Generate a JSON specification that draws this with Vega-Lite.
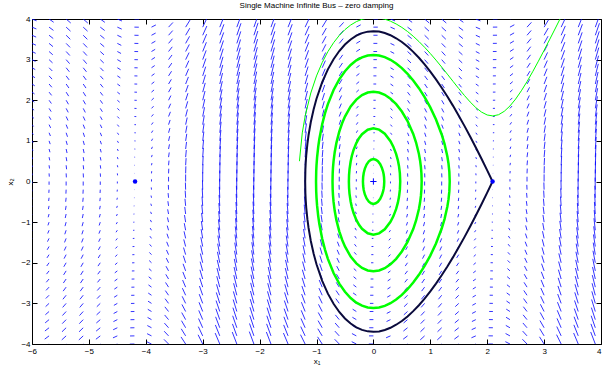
{"$schema":"https://vega.github.io/schema/vega-lite/v6.json","width":569,"height":325,"autosize":{"type":"none"},"padding":{"left":32,"top":19,"right":1,"bottom":22},"background":"white",
"title":{"text":"Single Machine Infinite Bus – zero damping","font":"Liberation Sans","fontSize":8,"fontWeight":"normal","color":"black","offset":5},
"config":{"view":{"stroke":"black","strokeWidth":1},"axis":{"domain":false,"grid":false,"tickColor":"black","tickSize":-5,"tickWidth":1,"labelFont":"Liberation Sans","labelFontSize":8,"labelColor":"black","titleFont":"Liberation Sans","titleFontSize":8,"titleFontWeight":"normal","titleColor":"black","labelFlush":false,"labelOverlap":false}},
"resolve":{"axis":{"x":"independent","y":"independent"}},
"datasets":{
"q":[
{"x":-6,"y":-4,"a":-6.081,"b":-4.045},{"x":-6,"y":-3.8,"a":-6.077,"b":-3.845},{"x":-6,"y":-3.6,"a":-6.073,"b":-3.645},{"x":-6,"y":-3.4,"a":-6.069,"b":-3.445},{"x":-6,"y":-3.2,"a":-6.065,"b":-3.245},{"x":-6,"y":-3,"a":-6.061,"b":-3.045},{"x":-6,"y":-2.8,"a":-6.057,"b":-2.845},{"x":-6,"y":-2.6,"a":-6.053,"b":-2.645},{"x":-6,"y":-2.4,"a":-6.049,"b":-2.445},{"x":-6,"y":-2.2,"a":-6.045,"b":-2.245},{"x":-6,"y":-2,"a":-6.041,"b":-2.045},{"x":-6,"y":-1.8,"a":-6.037,"b":-1.845},{"x":-6,"y":-1.6,"a":-6.033,"b":-1.645},{"x":-6,"y":-1.4,"a":-6.028,"b":-1.445},{"x":-6,"y":-1.2,"a":-6.024,"b":-1.245},{"x":-6,"y":-1,"a":-6.02,"b":-1.045},{"x":-6,"y":-0.8,"a":-6.016,"b":-0.845},{"x":-6,"y":-0.6,"a":-6.012,"b":-0.645},{"x":-6,"y":-0.4,"a":-6.008,"b":-0.445},{"x":-6,"y":-0.2,"a":-6.004,"b":-0.245},{"x":-6,"y":0,"a":-6,"b":-0.045},{"x":-6,"y":0.2,"a":-5.996,"b":0.155},{"x":-6,"y":0.4,"a":-5.992,"b":0.355},{"x":-6,"y":0.6,"a":-5.988,"b":0.555},{"x":-6,"y":0.8,"a":-5.984,"b":0.755},{"x":-6,"y":1,"a":-5.98,"b":0.955},{"x":-6,"y":1.2,"a":-5.976,"b":1.155},{"x":-6,"y":1.4,"a":-5.972,"b":1.355},{"x":-6,"y":1.6,"a":-5.967,"b":1.555},{"x":-6,"y":1.8,"a":-5.963,"b":1.755},{"x":-6,"y":2,"a":-5.959,"b":1.955},{"x":-6,"y":2.2,"a":-5.955,"b":2.155},{"x":-6,"y":2.4,"a":-5.951,"b":2.355},{"x":-6,"y":2.6,"a":-5.947,"b":2.555},{"x":-6,"y":2.8,"a":-5.943,"b":2.755},{"x":-6,"y":3,"a":-5.939,"b":2.955},{"x":-6,"y":3.2,"a":-5.935,"b":3.155},{"x":-6,"y":3.4,"a":-5.931,"b":3.355},{"x":-6,"y":3.6,"a":-5.927,"b":3.555},{"x":-6,"y":3.8,"a":-5.923,"b":3.755},{"x":-6,"y":4,"a":-5.919,"b":3.955},
{"x":-5.7,"y":-4,"a":-5.781,"b":-4.08},{"x":-5.7,"y":-3.8,"a":-5.777,"b":-3.88},{"x":-5.7,"y":-3.6,"a":-5.773,"b":-3.68},{"x":-5.7,"y":-3.4,"a":-5.769,"b":-3.48},{"x":-5.7,"y":-3.2,"a":-5.765,"b":-3.28},{"x":-5.7,"y":-3,"a":-5.761,"b":-3.08},{"x":-5.7,"y":-2.8,"a":-5.757,"b":-2.88},{"x":-5.7,"y":-2.6,"a":-5.753,"b":-2.68},{"x":-5.7,"y":-2.4,"a":-5.749,"b":-2.48},{"x":-5.7,"y":-2.2,"a":-5.745,"b":-2.28},{"x":-5.7,"y":-2,"a":-5.741,"b":-2.08},{"x":-5.7,"y":-1.8,"a":-5.737,"b":-1.88},{"x":-5.7,"y":-1.6,"a":-5.733,"b":-1.68},{"x":-5.7,"y":-1.4,"a":-5.728,"b":-1.48},{"x":-5.7,"y":-1.2,"a":-5.724,"b":-1.28},{"x":-5.7,"y":-1,"a":-5.72,"b":-1.08},{"x":-5.7,"y":-0.8,"a":-5.716,"b":-0.88},{"x":-5.7,"y":-0.6,"a":-5.712,"b":-0.68},{"x":-5.7,"y":-0.4,"a":-5.708,"b":-0.48},{"x":-5.7,"y":-0.2,"a":-5.704,"b":-0.28},{"x":-5.7,"y":0,"a":-5.7,"b":-0.08},{"x":-5.7,"y":0.2,"a":-5.696,"b":0.12},{"x":-5.7,"y":0.4,"a":-5.692,"b":0.32},{"x":-5.7,"y":0.6,"a":-5.688,"b":0.52},{"x":-5.7,"y":0.8,"a":-5.684,"b":0.72},{"x":-5.7,"y":1,"a":-5.68,"b":0.92},{"x":-5.7,"y":1.2,"a":-5.676,"b":1.12},{"x":-5.7,"y":1.4,"a":-5.672,"b":1.32},{"x":-5.7,"y":1.6,"a":-5.667,"b":1.52},{"x":-5.7,"y":1.8,"a":-5.663,"b":1.72},{"x":-5.7,"y":2,"a":-5.659,"b":1.92},{"x":-5.7,"y":2.2,"a":-5.655,"b":2.12},{"x":-5.7,"y":2.4,"a":-5.651,"b":2.32},{"x":-5.7,"y":2.6,"a":-5.647,"b":2.52},{"x":-5.7,"y":2.8,"a":-5.643,"b":2.72},{"x":-5.7,"y":3,"a":-5.639,"b":2.92},{"x":-5.7,"y":3.2,"a":-5.635,"b":3.12},{"x":-5.7,"y":3.4,"a":-5.631,"b":3.32},{"x":-5.7,"y":3.6,"a":-5.627,"b":3.52},{"x":-5.7,"y":3.8,"a":-5.623,"b":3.72},{"x":-5.7,"y":4,"a":-5.619,"b":3.92},
{"x":-5.4,"y":-4,"a":-5.481,"b":-4.099},{"x":-5.4,"y":-3.8,"a":-5.477,"b":-3.899},{"x":-5.4,"y":-3.6,"a":-5.473,"b":-3.699},{"x":-5.4,"y":-3.4,"a":-5.469,"b":-3.499},{"x":-5.4,"y":-3.2,"a":-5.465,"b":-3.299},{"x":-5.4,"y":-3,"a":-5.461,"b":-3.099},{"x":-5.4,"y":-2.8,"a":-5.457,"b":-2.899},{"x":-5.4,"y":-2.6,"a":-5.453,"b":-2.699},{"x":-5.4,"y":-2.4,"a":-5.449,"b":-2.499},{"x":-5.4,"y":-2.2,"a":-5.445,"b":-2.299},{"x":-5.4,"y":-2,"a":-5.441,"b":-2.099},{"x":-5.4,"y":-1.8,"a":-5.437,"b":-1.899},{"x":-5.4,"y":-1.6,"a":-5.433,"b":-1.699},{"x":-5.4,"y":-1.4,"a":-5.428,"b":-1.499},{"x":-5.4,"y":-1.2,"a":-5.424,"b":-1.299},{"x":-5.4,"y":-1,"a":-5.42,"b":-1.099},{"x":-5.4,"y":-0.8,"a":-5.416,"b":-0.899},{"x":-5.4,"y":-0.6,"a":-5.412,"b":-0.699},{"x":-5.4,"y":-0.4,"a":-5.408,"b":-0.499},{"x":-5.4,"y":-0.2,"a":-5.404,"b":-0.299},{"x":-5.4,"y":0,"a":-5.4,"b":-0.099},{"x":-5.4,"y":0.2,"a":-5.396,"b":0.101},{"x":-5.4,"y":0.4,"a":-5.392,"b":0.301},{"x":-5.4,"y":0.6,"a":-5.388,"b":0.501},{"x":-5.4,"y":0.8,"a":-5.384,"b":0.701},{"x":-5.4,"y":1,"a":-5.38,"b":0.901},{"x":-5.4,"y":1.2,"a":-5.376,"b":1.101},{"x":-5.4,"y":1.4,"a":-5.372,"b":1.301},{"x":-5.4,"y":1.6,"a":-5.367,"b":1.501},{"x":-5.4,"y":1.8,"a":-5.363,"b":1.701},{"x":-5.4,"y":2,"a":-5.359,"b":1.901},{"x":-5.4,"y":2.2,"a":-5.355,"b":2.101},{"x":-5.4,"y":2.4,"a":-5.351,"b":2.301},{"x":-5.4,"y":2.6,"a":-5.347,"b":2.501},{"x":-5.4,"y":2.8,"a":-5.343,"b":2.701},{"x":-5.4,"y":3,"a":-5.339,"b":2.901},{"x":-5.4,"y":3.2,"a":-5.335,"b":3.101},{"x":-5.4,"y":3.4,"a":-5.331,"b":3.301},{"x":-5.4,"y":3.6,"a":-5.327,"b":3.501},{"x":-5.4,"y":3.8,"a":-5.323,"b":3.701},{"x":-5.4,"y":4,"a":-5.319,"b":3.901},
{"x":-5.1,"y":-4,"a":-5.181,"b":-4.1},{"x":-5.1,"y":-3.8,"a":-5.177,"b":-3.9},{"x":-5.1,"y":-3.6,"a":-5.173,"b":-3.7},{"x":-5.1,"y":-3.4,"a":-5.169,"b":-3.5},{"x":-5.1,"y":-3.2,"a":-5.165,"b":-3.3},{"x":-5.1,"y":-3,"a":-5.161,"b":-3.1},{"x":-5.1,"y":-2.8,"a":-5.157,"b":-2.9},{"x":-5.1,"y":-2.6,"a":-5.153,"b":-2.7},{"x":-5.1,"y":-2.4,"a":-5.149,"b":-2.5},{"x":-5.1,"y":-2.2,"a":-5.145,"b":-2.3},{"x":-5.1,"y":-2,"a":-5.141,"b":-2.1},{"x":-5.1,"y":-1.8,"a":-5.137,"b":-1.9},{"x":-5.1,"y":-1.6,"a":-5.133,"b":-1.7},{"x":-5.1,"y":-1.4,"a":-5.128,"b":-1.5},{"x":-5.1,"y":-1.2,"a":-5.124,"b":-1.3},{"x":-5.1,"y":-1,"a":-5.12,"b":-1.1},{"x":-5.1,"y":-0.8,"a":-5.116,"b":-0.9},{"x":-5.1,"y":-0.6,"a":-5.112,"b":-0.7},{"x":-5.1,"y":-0.4,"a":-5.108,"b":-0.5},{"x":-5.1,"y":-0.2,"a":-5.104,"b":-0.3},{"x":-5.1,"y":0,"a":-5.1,"b":-0.1},{"x":-5.1,"y":0.2,"a":-5.096,"b":0.1},{"x":-5.1,"y":0.4,"a":-5.092,"b":0.3},{"x":-5.1,"y":0.6,"a":-5.088,"b":0.5},{"x":-5.1,"y":0.8,"a":-5.084,"b":0.7},{"x":-5.1,"y":1,"a":-5.08,"b":0.9},{"x":-5.1,"y":1.2,"a":-5.076,"b":1.1},{"x":-5.1,"y":1.4,"a":-5.072,"b":1.3},{"x":-5.1,"y":1.6,"a":-5.067,"b":1.5},{"x":-5.1,"y":1.8,"a":-5.063,"b":1.7},{"x":-5.1,"y":2,"a":-5.059,"b":1.9},{"x":-5.1,"y":2.2,"a":-5.055,"b":2.1},{"x":-5.1,"y":2.4,"a":-5.051,"b":2.3},{"x":-5.1,"y":2.6,"a":-5.047,"b":2.5},{"x":-5.1,"y":2.8,"a":-5.043,"b":2.7},{"x":-5.1,"y":3,"a":-5.039,"b":2.9},{"x":-5.1,"y":3.2,"a":-5.035,"b":3.1},{"x":-5.1,"y":3.4,"a":-5.031,"b":3.3},{"x":-5.1,"y":3.6,"a":-5.027,"b":3.5},{"x":-5.1,"y":3.8,"a":-5.023,"b":3.7},{"x":-5.1,"y":4,"a":-5.019,"b":3.9},
{"x":-4.8,"y":-4,"a":-4.881,"b":-4.083},{"x":-4.8,"y":-3.8,"a":-4.877,"b":-3.883},{"x":-4.8,"y":-3.6,"a":-4.873,"b":-3.683},{"x":-4.8,"y":-3.4,"a":-4.869,"b":-3.483},{"x":-4.8,"y":-3.2,"a":-4.865,"b":-3.283},{"x":-4.8,"y":-3,"a":-4.861,"b":-3.083},{"x":-4.8,"y":-2.8,"a":-4.857,"b":-2.883},{"x":-4.8,"y":-2.6,"a":-4.853,"b":-2.683},{"x":-4.8,"y":-2.4,"a":-4.849,"b":-2.483},{"x":-4.8,"y":-2.2,"a":-4.845,"b":-2.283},{"x":-4.8,"y":-2,"a":-4.841,"b":-2.083},{"x":-4.8,"y":-1.8,"a":-4.837,"b":-1.883},{"x":-4.8,"y":-1.6,"a":-4.833,"b":-1.683},{"x":-4.8,"y":-1.4,"a":-4.828,"b":-1.483},{"x":-4.8,"y":-1.2,"a":-4.824,"b":-1.283},{"x":-4.8,"y":-1,"a":-4.82,"b":-1.083},{"x":-4.8,"y":-0.8,"a":-4.816,"b":-0.883},{"x":-4.8,"y":-0.6,"a":-4.812,"b":-0.683},{"x":-4.8,"y":-0.4,"a":-4.808,"b":-0.483},{"x":-4.8,"y":-0.2,"a":-4.804,"b":-0.283},{"x":-4.8,"y":0,"a":-4.8,"b":-0.083},{"x":-4.8,"y":0.2,"a":-4.796,"b":0.117},{"x":-4.8,"y":0.4,"a":-4.792,"b":0.317},{"x":-4.8,"y":0.6,"a":-4.788,"b":0.517},{"x":-4.8,"y":0.8,"a":-4.784,"b":0.717},{"x":-4.8,"y":1,"a":-4.78,"b":0.917},{"x":-4.8,"y":1.2,"a":-4.776,"b":1.117},{"x":-4.8,"y":1.4,"a":-4.772,"b":1.317},{"x":-4.8,"y":1.6,"a":-4.767,"b":1.517},{"x":-4.8,"y":1.8,"a":-4.763,"b":1.717},{"x":-4.8,"y":2,"a":-4.759,"b":1.917},{"x":-4.8,"y":2.2,"a":-4.755,"b":2.117},{"x":-4.8,"y":2.4,"a":-4.751,"b":2.317},{"x":-4.8,"y":2.6,"a":-4.747,"b":2.517},{"x":-4.8,"y":2.8,"a":-4.743,"b":2.717},{"x":-4.8,"y":3,"a":-4.739,"b":2.917},{"x":-4.8,"y":3.2,"a":-4.735,"b":3.117},{"x":-4.8,"y":3.4,"a":-4.731,"b":3.317},{"x":-4.8,"y":3.6,"a":-4.727,"b":3.517},{"x":-4.8,"y":3.8,"a":-4.723,"b":3.717},{"x":-4.8,"y":4,"a":-4.719,"b":3.917},
{"x":-4.5,"y":-4,"a":-4.581,"b":-4.049},{"x":-4.5,"y":-3.8,"a":-4.577,"b":-3.849},{"x":-4.5,"y":-3.6,"a":-4.573,"b":-3.649},{"x":-4.5,"y":-3.4,"a":-4.569,"b":-3.449},{"x":-4.5,"y":-3.2,"a":-4.565,"b":-3.249},{"x":-4.5,"y":-3,"a":-4.561,"b":-3.049},{"x":-4.5,"y":-2.8,"a":-4.557,"b":-2.849},{"x":-4.5,"y":-2.6,"a":-4.553,"b":-2.649},{"x":-4.5,"y":-2.4,"a":-4.549,"b":-2.449},{"x":-4.5,"y":-2.2,"a":-4.545,"b":-2.249},{"x":-4.5,"y":-2,"a":-4.541,"b":-2.049},{"x":-4.5,"y":-1.8,"a":-4.537,"b":-1.849},{"x":-4.5,"y":-1.6,"a":-4.533,"b":-1.649},{"x":-4.5,"y":-1.4,"a":-4.528,"b":-1.449},{"x":-4.5,"y":-1.2,"a":-4.524,"b":-1.249},{"x":-4.5,"y":-1,"a":-4.52,"b":-1.049},{"x":-4.5,"y":-0.8,"a":-4.516,"b":-0.849},{"x":-4.5,"y":-0.6,"a":-4.512,"b":-0.649},{"x":-4.5,"y":-0.4,"a":-4.508,"b":-0.449},{"x":-4.5,"y":-0.2,"a":-4.504,"b":-0.249},{"x":-4.5,"y":0,"a":-4.5,"b":-0.049},{"x":-4.5,"y":0.2,"a":-4.496,"b":0.151},{"x":-4.5,"y":0.4,"a":-4.492,"b":0.351},{"x":-4.5,"y":0.6,"a":-4.488,"b":0.551},{"x":-4.5,"y":0.8,"a":-4.484,"b":0.751},{"x":-4.5,"y":1,"a":-4.48,"b":0.951},{"x":-4.5,"y":1.2,"a":-4.476,"b":1.151},{"x":-4.5,"y":1.4,"a":-4.472,"b":1.351},{"x":-4.5,"y":1.6,"a":-4.467,"b":1.551},{"x":-4.5,"y":1.8,"a":-4.463,"b":1.751},{"x":-4.5,"y":2,"a":-4.459,"b":1.951},{"x":-4.5,"y":2.2,"a":-4.455,"b":2.151},{"x":-4.5,"y":2.4,"a":-4.451,"b":2.351},{"x":-4.5,"y":2.6,"a":-4.447,"b":2.551},{"x":-4.5,"y":2.8,"a":-4.443,"b":2.751},{"x":-4.5,"y":3,"a":-4.439,"b":2.951},{"x":-4.5,"y":3.2,"a":-4.435,"b":3.151},{"x":-4.5,"y":3.4,"a":-4.431,"b":3.351},{"x":-4.5,"y":3.6,"a":-4.427,"b":3.551},{"x":-4.5,"y":3.8,"a":-4.423,"b":3.751},{"x":-4.5,"y":4,"a":-4.419,"b":3.951},
{"x":-4.2,"y":-4,"a":-4.281,"b":-4.002},{"x":-4.2,"y":-3.8,"a":-4.277,"b":-3.802},{"x":-4.2,"y":-3.6,"a":-4.273,"b":-3.602},{"x":-4.2,"y":-3.4,"a":-4.269,"b":-3.402},{"x":-4.2,"y":-3.2,"a":-4.265,"b":-3.202},{"x":-4.2,"y":-3,"a":-4.261,"b":-3.002},{"x":-4.2,"y":-2.8,"a":-4.257,"b":-2.802},{"x":-4.2,"y":-2.6,"a":-4.253,"b":-2.602},{"x":-4.2,"y":-2.4,"a":-4.249,"b":-2.402},{"x":-4.2,"y":-2.2,"a":-4.245,"b":-2.202},{"x":-4.2,"y":-2,"a":-4.241,"b":-2.002},{"x":-4.2,"y":-1.8,"a":-4.237,"b":-1.802},{"x":-4.2,"y":-1.6,"a":-4.233,"b":-1.602},{"x":-4.2,"y":-1.4,"a":-4.228,"b":-1.402},{"x":-4.2,"y":-1.2,"a":-4.224,"b":-1.202},{"x":-4.2,"y":-1,"a":-4.22,"b":-1.002},{"x":-4.2,"y":-0.8,"a":-4.216,"b":-0.802},{"x":-4.2,"y":-0.6,"a":-4.212,"b":-0.602},{"x":-4.2,"y":-0.4,"a":-4.208,"b":-0.402},{"x":-4.2,"y":-0.2,"a":-4.204,"b":-0.202},{"x":-4.2,"y":0,"a":-4.2,"b":-0.002},{"x":-4.2,"y":0.2,"a":-4.196,"b":0.198},{"x":-4.2,"y":0.4,"a":-4.192,"b":0.398},{"x":-4.2,"y":0.6,"a":-4.188,"b":0.598},{"x":-4.2,"y":0.8,"a":-4.184,"b":0.798},{"x":-4.2,"y":1,"a":-4.18,"b":0.998},{"x":-4.2,"y":1.2,"a":-4.176,"b":1.198},{"x":-4.2,"y":1.4,"a":-4.172,"b":1.398},{"x":-4.2,"y":1.6,"a":-4.167,"b":1.598},{"x":-4.2,"y":1.8,"a":-4.163,"b":1.798},{"x":-4.2,"y":2,"a":-4.159,"b":1.998},{"x":-4.2,"y":2.2,"a":-4.155,"b":2.198},{"x":-4.2,"y":2.4,"a":-4.151,"b":2.398},{"x":-4.2,"y":2.6,"a":-4.147,"b":2.598},{"x":-4.2,"y":2.8,"a":-4.143,"b":2.798},{"x":-4.2,"y":3,"a":-4.139,"b":2.998},{"x":-4.2,"y":3.2,"a":-4.135,"b":3.198},{"x":-4.2,"y":3.4,"a":-4.131,"b":3.398},{"x":-4.2,"y":3.6,"a":-4.127,"b":3.598},{"x":-4.2,"y":3.8,"a":-4.123,"b":3.798},{"x":-4.2,"y":4,"a":-4.119,"b":3.998},
{"x":-3.9,"y":-4,"a":-3.981,"b":-3.946},{"x":-3.9,"y":-3.8,"a":-3.977,"b":-3.746},{"x":-3.9,"y":-3.6,"a":-3.973,"b":-3.546},{"x":-3.9,"y":-3.4,"a":-3.969,"b":-3.346},{"x":-3.9,"y":-3.2,"a":-3.965,"b":-3.146},{"x":-3.9,"y":-3,"a":-3.961,"b":-2.946},{"x":-3.9,"y":-2.8,"a":-3.957,"b":-2.746},{"x":-3.9,"y":-2.6,"a":-3.953,"b":-2.546},{"x":-3.9,"y":-2.4,"a":-3.949,"b":-2.346},{"x":-3.9,"y":-2.2,"a":-3.945,"b":-2.146},{"x":-3.9,"y":-2,"a":-3.941,"b":-1.946},{"x":-3.9,"y":-1.8,"a":-3.937,"b":-1.746},{"x":-3.9,"y":-1.6,"a":-3.933,"b":-1.546},{"x":-3.9,"y":-1.4,"a":-3.928,"b":-1.346},{"x":-3.9,"y":-1.2,"a":-3.924,"b":-1.146},{"x":-3.9,"y":-1,"a":-3.92,"b":-0.946},{"x":-3.9,"y":-0.8,"a":-3.916,"b":-0.746},{"x":-3.9,"y":-0.6,"a":-3.912,"b":-0.546},{"x":-3.9,"y":-0.4,"a":-3.908,"b":-0.346},{"x":-3.9,"y":-0.2,"a":-3.904,"b":-0.146},{"x":-3.9,"y":0,"a":-3.9,"b":0.054},{"x":-3.9,"y":0.2,"a":-3.896,"b":0.254},{"x":-3.9,"y":0.4,"a":-3.892,"b":0.454},{"x":-3.9,"y":0.6,"a":-3.888,"b":0.654},{"x":-3.9,"y":0.8,"a":-3.884,"b":0.854},{"x":-3.9,"y":1,"a":-3.88,"b":1.054},{"x":-3.9,"y":1.2,"a":-3.876,"b":1.254},{"x":-3.9,"y":1.4,"a":-3.872,"b":1.454},{"x":-3.9,"y":1.6,"a":-3.867,"b":1.654},{"x":-3.9,"y":1.8,"a":-3.863,"b":1.854},{"x":-3.9,"y":2,"a":-3.859,"b":2.054},{"x":-3.9,"y":2.2,"a":-3.855,"b":2.254},{"x":-3.9,"y":2.4,"a":-3.851,"b":2.454},{"x":-3.9,"y":2.6,"a":-3.847,"b":2.654},{"x":-3.9,"y":2.8,"a":-3.843,"b":2.854},{"x":-3.9,"y":3,"a":-3.839,"b":3.054},{"x":-3.9,"y":3.2,"a":-3.835,"b":3.254},{"x":-3.9,"y":3.4,"a":-3.831,"b":3.454},{"x":-3.9,"y":3.6,"a":-3.827,"b":3.654},{"x":-3.9,"y":3.8,"a":-3.823,"b":3.854},{"x":-3.9,"y":4,"a":-3.819,"b":4.054},
{"x":-3.6,"y":-4,"a":-3.681,"b":-3.885},{"x":-3.6,"y":-3.8,"a":-3.677,"b":-3.685},{"x":-3.6,"y":-3.6,"a":-3.673,"b":-3.485},{"x":-3.6,"y":-3.4,"a":-3.669,"b":-3.285},{"x":-3.6,"y":-3.2,"a":-3.665,"b":-3.085},{"x":-3.6,"y":-3,"a":-3.661,"b":-2.885},{"x":-3.6,"y":-2.8,"a":-3.657,"b":-2.685},{"x":-3.6,"y":-2.6,"a":-3.653,"b":-2.485},{"x":-3.6,"y":-2.4,"a":-3.649,"b":-2.285},{"x":-3.6,"y":-2.2,"a":-3.645,"b":-2.085},{"x":-3.6,"y":-2,"a":-3.641,"b":-1.885},{"x":-3.6,"y":-1.8,"a":-3.637,"b":-1.685},{"x":-3.6,"y":-1.6,"a":-3.633,"b":-1.485},{"x":-3.6,"y":-1.4,"a":-3.628,"b":-1.285},{"x":-3.6,"y":-1.2,"a":-3.624,"b":-1.085},{"x":-3.6,"y":-1,"a":-3.62,"b":-0.885},{"x":-3.6,"y":-0.8,"a":-3.616,"b":-0.685},{"x":-3.6,"y":-0.6,"a":-3.612,"b":-0.485},{"x":-3.6,"y":-0.4,"a":-3.608,"b":-0.285},{"x":-3.6,"y":-0.2,"a":-3.604,"b":-0.085},{"x":-3.6,"y":0,"a":-3.6,"b":0.115},{"x":-3.6,"y":0.2,"a":-3.596,"b":0.315},{"x":-3.6,"y":0.4,"a":-3.592,"b":0.515},{"x":-3.6,"y":0.6,"a":-3.588,"b":0.715},{"x":-3.6,"y":0.8,"a":-3.584,"b":0.915},{"x":-3.6,"y":1,"a":-3.58,"b":1.115},{"x":-3.6,"y":1.2,"a":-3.576,"b":1.315},{"x":-3.6,"y":1.4,"a":-3.572,"b":1.515},{"x":-3.6,"y":1.6,"a":-3.567,"b":1.715},{"x":-3.6,"y":1.8,"a":-3.563,"b":1.915},{"x":-3.6,"y":2,"a":-3.559,"b":2.115},{"x":-3.6,"y":2.2,"a":-3.555,"b":2.315},{"x":-3.6,"y":2.4,"a":-3.551,"b":2.515},{"x":-3.6,"y":2.6,"a":-3.547,"b":2.715},{"x":-3.6,"y":2.8,"a":-3.543,"b":2.915},{"x":-3.6,"y":3,"a":-3.539,"b":3.115},{"x":-3.6,"y":3.2,"a":-3.535,"b":3.315},{"x":-3.6,"y":3.4,"a":-3.531,"b":3.515},{"x":-3.6,"y":3.6,"a":-3.527,"b":3.715},{"x":-3.6,"y":3.8,"a":-3.523,"b":3.915},{"x":-3.6,"y":4,"a":-3.519,"b":4.115},
{"x":-3.3,"y":-4,"a":-3.381,"b":-3.826},{"x":-3.3,"y":-3.8,"a":-3.377,"b":-3.626},{"x":-3.3,"y":-3.6,"a":-3.373,"b":-3.426},{"x":-3.3,"y":-3.4,"a":-3.369,"b":-3.226},{"x":-3.3,"y":-3.2,"a":-3.365,"b":-3.026},{"x":-3.3,"y":-3,"a":-3.361,"b":-2.826},{"x":-3.3,"y":-2.8,"a":-3.357,"b":-2.626},{"x":-3.3,"y":-2.6,"a":-3.353,"b":-2.426},{"x":-3.3,"y":-2.4,"a":-3.349,"b":-2.226},{"x":-3.3,"y":-2.2,"a":-3.345,"b":-2.026},{"x":-3.3,"y":-2,"a":-3.341,"b":-1.826},{"x":-3.3,"y":-1.8,"a":-3.337,"b":-1.626},{"x":-3.3,"y":-1.6,"a":-3.333,"b":-1.426},{"x":-3.3,"y":-1.4,"a":-3.328,"b":-1.226},{"x":-3.3,"y":-1.2,"a":-3.324,"b":-1.026},{"x":-3.3,"y":-1,"a":-3.32,"b":-0.826},{"x":-3.3,"y":-0.8,"a":-3.316,"b":-0.626},{"x":-3.3,"y":-0.6,"a":-3.312,"b":-0.426},{"x":-3.3,"y":-0.4,"a":-3.308,"b":-0.226},{"x":-3.3,"y":-0.2,"a":-3.304,"b":-0.026},{"x":-3.3,"y":0,"a":-3.3,"b":0.174},{"x":-3.3,"y":0.2,"a":-3.296,"b":0.374},{"x":-3.3,"y":0.4,"a":-3.292,"b":0.574},{"x":-3.3,"y":0.6,"a":-3.288,"b":0.774},{"x":-3.3,"y":0.8,"a":-3.284,"b":0.974},{"x":-3.3,"y":1,"a":-3.28,"b":1.174},{"x":-3.3,"y":1.2,"a":-3.276,"b":1.374},{"x":-3.3,"y":1.4,"a":-3.272,"b":1.574},{"x":-3.3,"y":1.6,"a":-3.267,"b":1.774},{"x":-3.3,"y":1.8,"a":-3.263,"b":1.974},{"x":-3.3,"y":2,"a":-3.259,"b":2.174},{"x":-3.3,"y":2.2,"a":-3.255,"b":2.374},{"x":-3.3,"y":2.4,"a":-3.251,"b":2.574},{"x":-3.3,"y":2.6,"a":-3.247,"b":2.774},{"x":-3.3,"y":2.8,"a":-3.243,"b":2.974},{"x":-3.3,"y":3,"a":-3.239,"b":3.174},{"x":-3.3,"y":3.2,"a":-3.235,"b":3.374},{"x":-3.3,"y":3.4,"a":-3.231,"b":3.574},{"x":-3.3,"y":3.6,"a":-3.227,"b":3.774},{"x":-3.3,"y":3.8,"a":-3.223,"b":3.974},{"x":-3.3,"y":4,"a":-3.219,"b":4.174},
{"x":-3,"y":-4,"a":-3.081,"b":-3.773},{"x":-3,"y":-3.8,"a":-3.077,"b":-3.573},{"x":-3,"y":-3.6,"a":-3.073,"b":-3.373},{"x":-3,"y":-3.4,"a":-3.069,"b":-3.173},{"x":-3,"y":-3.2,"a":-3.065,"b":-2.973},{"x":-3,"y":-3,"a":-3.061,"b":-2.773},{"x":-3,"y":-2.8,"a":-3.057,"b":-2.573},{"x":-3,"y":-2.6,"a":-3.053,"b":-2.373},{"x":-3,"y":-2.4,"a":-3.049,"b":-2.173},{"x":-3,"y":-2.2,"a":-3.045,"b":-1.973},{"x":-3,"y":-2,"a":-3.041,"b":-1.773},{"x":-3,"y":-1.8,"a":-3.037,"b":-1.573},{"x":-3,"y":-1.6,"a":-3.033,"b":-1.373},{"x":-3,"y":-1.4,"a":-3.028,"b":-1.173},{"x":-3,"y":-1.2,"a":-3.024,"b":-0.973},{"x":-3,"y":-1,"a":-3.02,"b":-0.773},{"x":-3,"y":-0.8,"a":-3.016,"b":-0.573},{"x":-3,"y":-0.6,"a":-3.012,"b":-0.373},{"x":-3,"y":-0.4,"a":-3.008,"b":-0.173},{"x":-3,"y":-0.2,"a":-3.004,"b":0.027},{"x":-3,"y":0,"a":-3,"b":0.227},{"x":-3,"y":0.2,"a":-2.996,"b":0.427},{"x":-3,"y":0.4,"a":-2.992,"b":0.627},{"x":-3,"y":0.6,"a":-2.988,"b":0.827},{"x":-3,"y":0.8,"a":-2.984,"b":1.027},{"x":-3,"y":1,"a":-2.98,"b":1.227},{"x":-3,"y":1.2,"a":-2.976,"b":1.427},{"x":-3,"y":1.4,"a":-2.972,"b":1.627},{"x":-3,"y":1.6,"a":-2.967,"b":1.827},{"x":-3,"y":1.8,"a":-2.963,"b":2.027},{"x":-3,"y":2,"a":-2.959,"b":2.227},{"x":-3,"y":2.2,"a":-2.955,"b":2.427},{"x":-3,"y":2.4,"a":-2.951,"b":2.627},{"x":-3,"y":2.6,"a":-2.947,"b":2.827},{"x":-3,"y":2.8,"a":-2.943,"b":3.027},{"x":-3,"y":3,"a":-2.939,"b":3.227},{"x":-3,"y":3.2,"a":-2.935,"b":3.427},{"x":-3,"y":3.4,"a":-2.931,"b":3.627},{"x":-3,"y":3.6,"a":-2.927,"b":3.827},{"x":-3,"y":3.8,"a":-2.923,"b":4.027},{"x":-3,"y":4,"a":-2.919,"b":4.227},
{"x":-2.7,"y":-4,"a":-2.781,"b":-3.731},{"x":-2.7,"y":-3.8,"a":-2.777,"b":-3.531},{"x":-2.7,"y":-3.6,"a":-2.773,"b":-3.331},{"x":-2.7,"y":-3.4,"a":-2.769,"b":-3.131},{"x":-2.7,"y":-3.2,"a":-2.765,"b":-2.931},{"x":-2.7,"y":-3,"a":-2.761,"b":-2.731},{"x":-2.7,"y":-2.8,"a":-2.757,"b":-2.531},{"x":-2.7,"y":-2.6,"a":-2.753,"b":-2.331},{"x":-2.7,"y":-2.4,"a":-2.749,"b":-2.131},{"x":-2.7,"y":-2.2,"a":-2.745,"b":-1.931},{"x":-2.7,"y":-2,"a":-2.741,"b":-1.731},{"x":-2.7,"y":-1.8,"a":-2.737,"b":-1.531},{"x":-2.7,"y":-1.6,"a":-2.733,"b":-1.331},{"x":-2.7,"y":-1.4,"a":-2.728,"b":-1.131},{"x":-2.7,"y":-1.2,"a":-2.724,"b":-0.931},{"x":-2.7,"y":-1,"a":-2.72,"b":-0.731},{"x":-2.7,"y":-0.8,"a":-2.716,"b":-0.531},{"x":-2.7,"y":-0.6,"a":-2.712,"b":-0.331},{"x":-2.7,"y":-0.4,"a":-2.708,"b":-0.131},{"x":-2.7,"y":-0.2,"a":-2.704,"b":0.069},{"x":-2.7,"y":0,"a":-2.7,"b":0.269},{"x":-2.7,"y":0.2,"a":-2.696,"b":0.469},{"x":-2.7,"y":0.4,"a":-2.692,"b":0.669},{"x":-2.7,"y":0.6,"a":-2.688,"b":0.869},{"x":-2.7,"y":0.8,"a":-2.684,"b":1.069},{"x":-2.7,"y":1,"a":-2.68,"b":1.269},{"x":-2.7,"y":1.2,"a":-2.676,"b":1.469},{"x":-2.7,"y":1.4,"a":-2.672,"b":1.669},{"x":-2.7,"y":1.6,"a":-2.667,"b":1.869},{"x":-2.7,"y":1.8,"a":-2.663,"b":2.069},{"x":-2.7,"y":2,"a":-2.659,"b":2.269},{"x":-2.7,"y":2.2,"a":-2.655,"b":2.469},{"x":-2.7,"y":2.4,"a":-2.651,"b":2.669},{"x":-2.7,"y":2.6,"a":-2.647,"b":2.869},{"x":-2.7,"y":2.8,"a":-2.643,"b":3.069},{"x":-2.7,"y":3,"a":-2.639,"b":3.269},{"x":-2.7,"y":3.2,"a":-2.635,"b":3.469},{"x":-2.7,"y":3.4,"a":-2.631,"b":3.669},{"x":-2.7,"y":3.6,"a":-2.627,"b":3.869},{"x":-2.7,"y":3.8,"a":-2.623,"b":4.069},{"x":-2.7,"y":4,"a":-2.619,"b":4.269},
{"x":-2.4,"y":-4,"a":-2.481,"b":-3.705},{"x":-2.4,"y":-3.8,"a":-2.477,"b":-3.505},{"x":-2.4,"y":-3.6,"a":-2.473,"b":-3.305},{"x":-2.4,"y":-3.4,"a":-2.469,"b":-3.105},{"x":-2.4,"y":-3.2,"a":-2.465,"b":-2.905},{"x":-2.4,"y":-3,"a":-2.461,"b":-2.705},{"x":-2.4,"y":-2.8,"a":-2.457,"b":-2.505},{"x":-2.4,"y":-2.6,"a":-2.453,"b":-2.305},{"x":-2.4,"y":-2.4,"a":-2.449,"b":-2.105},{"x":-2.4,"y":-2.2,"a":-2.445,"b":-1.905},{"x":-2.4,"y":-2,"a":-2.441,"b":-1.705},{"x":-2.4,"y":-1.8,"a":-2.437,"b":-1.505},{"x":-2.4,"y":-1.6,"a":-2.433,"b":-1.305},{"x":-2.4,"y":-1.4,"a":-2.428,"b":-1.105},{"x":-2.4,"y":-1.2,"a":-2.424,"b":-0.905},{"x":-2.4,"y":-1,"a":-2.42,"b":-0.705},{"x":-2.4,"y":-0.8,"a":-2.416,"b":-0.505},{"x":-2.4,"y":-0.6,"a":-2.412,"b":-0.305},{"x":-2.4,"y":-0.4,"a":-2.408,"b":-0.105},{"x":-2.4,"y":-0.2,"a":-2.404,"b":0.095},{"x":-2.4,"y":0,"a":-2.4,"b":0.295},{"x":-2.4,"y":0.2,"a":-2.396,"b":0.495},{"x":-2.4,"y":0.4,"a":-2.392,"b":0.695},{"x":-2.4,"y":0.6,"a":-2.388,"b":0.895},{"x":-2.4,"y":0.8,"a":-2.384,"b":1.095},{"x":-2.4,"y":1,"a":-2.38,"b":1.295},{"x":-2.4,"y":1.2,"a":-2.376,"b":1.495},{"x":-2.4,"y":1.4,"a":-2.372,"b":1.695},{"x":-2.4,"y":1.6,"a":-2.367,"b":1.895},{"x":-2.4,"y":1.8,"a":-2.363,"b":2.095},{"x":-2.4,"y":2,"a":-2.359,"b":2.295},{"x":-2.4,"y":2.2,"a":-2.355,"b":2.495},{"x":-2.4,"y":2.4,"a":-2.351,"b":2.695},{"x":-2.4,"y":2.6,"a":-2.347,"b":2.895},{"x":-2.4,"y":2.8,"a":-2.343,"b":3.095},{"x":-2.4,"y":3,"a":-2.339,"b":3.295},{"x":-2.4,"y":3.2,"a":-2.335,"b":3.495},{"x":-2.4,"y":3.4,"a":-2.331,"b":3.695},{"x":-2.4,"y":3.6,"a":-2.327,"b":3.895},{"x":-2.4,"y":3.8,"a":-2.323,"b":4.095},{"x":-2.4,"y":4,"a":-2.319,"b":4.295},
{"x":-2.1,"y":-4,"a":-2.181,"b":-3.695},{"x":-2.1,"y":-3.8,"a":-2.177,"b":-3.495},{"x":-2.1,"y":-3.6,"a":-2.173,"b":-3.295},{"x":-2.1,"y":-3.4,"a":-2.169,"b":-3.095},{"x":-2.1,"y":-3.2,"a":-2.165,"b":-2.895},{"x":-2.1,"y":-3,"a":-2.161,"b":-2.695},{"x":-2.1,"y":-2.8,"a":-2.157,"b":-2.495},{"x":-2.1,"y":-2.6,"a":-2.153,"b":-2.295},{"x":-2.1,"y":-2.4,"a":-2.149,"b":-2.095},{"x":-2.1,"y":-2.2,"a":-2.145,"b":-1.895},{"x":-2.1,"y":-2,"a":-2.141,"b":-1.695},{"x":-2.1,"y":-1.8,"a":-2.137,"b":-1.495},{"x":-2.1,"y":-1.6,"a":-2.133,"b":-1.295},{"x":-2.1,"y":-1.4,"a":-2.128,"b":-1.095},{"x":-2.1,"y":-1.2,"a":-2.124,"b":-0.895},{"x":-2.1,"y":-1,"a":-2.12,"b":-0.695},{"x":-2.1,"y":-0.8,"a":-2.116,"b":-0.495},{"x":-2.1,"y":-0.6,"a":-2.112,"b":-0.295},{"x":-2.1,"y":-0.4,"a":-2.108,"b":-0.095},{"x":-2.1,"y":-0.2,"a":-2.104,"b":0.105},{"x":-2.1,"y":0,"a":-2.1,"b":0.305},{"x":-2.1,"y":0.2,"a":-2.096,"b":0.505},{"x":-2.1,"y":0.4,"a":-2.092,"b":0.705},{"x":-2.1,"y":0.6,"a":-2.088,"b":0.905},{"x":-2.1,"y":0.8,"a":-2.084,"b":1.105},{"x":-2.1,"y":1,"a":-2.08,"b":1.305},{"x":-2.1,"y":1.2,"a":-2.076,"b":1.505},{"x":-2.1,"y":1.4,"a":-2.072,"b":1.705},{"x":-2.1,"y":1.6,"a":-2.067,"b":1.905},{"x":-2.1,"y":1.8,"a":-2.063,"b":2.105},{"x":-2.1,"y":2,"a":-2.059,"b":2.305},{"x":-2.1,"y":2.2,"a":-2.055,"b":2.505},{"x":-2.1,"y":2.4,"a":-2.051,"b":2.705},{"x":-2.1,"y":2.6,"a":-2.047,"b":2.905},{"x":-2.1,"y":2.8,"a":-2.043,"b":3.105},{"x":-2.1,"y":3,"a":-2.039,"b":3.305},{"x":-2.1,"y":3.2,"a":-2.035,"b":3.505},{"x":-2.1,"y":3.4,"a":-2.031,"b":3.705},{"x":-2.1,"y":3.6,"a":-2.027,"b":3.905},{"x":-2.1,"y":3.8,"a":-2.023,"b":4.105},{"x":-2.1,"y":4,"a":-2.019,"b":4.305},
{"x":-1.8,"y":-4,"a":-1.881,"b":-3.704},{"x":-1.8,"y":-3.8,"a":-1.877,"b":-3.504},{"x":-1.8,"y":-3.6,"a":-1.873,"b":-3.304},{"x":-1.8,"y":-3.4,"a":-1.869,"b":-3.104},{"x":-1.8,"y":-3.2,"a":-1.865,"b":-2.904},{"x":-1.8,"y":-3,"a":-1.861,"b":-2.704},{"x":-1.8,"y":-2.8,"a":-1.857,"b":-2.504},{"x":-1.8,"y":-2.6,"a":-1.853,"b":-2.304},{"x":-1.8,"y":-2.4,"a":-1.849,"b":-2.104},{"x":-1.8,"y":-2.2,"a":-1.845,"b":-1.904},{"x":-1.8,"y":-2,"a":-1.841,"b":-1.704},{"x":-1.8,"y":-1.8,"a":-1.837,"b":-1.504},{"x":-1.8,"y":-1.6,"a":-1.833,"b":-1.304},{"x":-1.8,"y":-1.4,"a":-1.828,"b":-1.104},{"x":-1.8,"y":-1.2,"a":-1.824,"b":-0.904},{"x":-1.8,"y":-1,"a":-1.82,"b":-0.704},{"x":-1.8,"y":-0.8,"a":-1.816,"b":-0.504},{"x":-1.8,"y":-0.6,"a":-1.812,"b":-0.304},{"x":-1.8,"y":-0.4,"a":-1.808,"b":-0.104},{"x":-1.8,"y":-0.2,"a":-1.804,"b":0.096},{"x":-1.8,"y":0,"a":-1.8,"b":0.296},{"x":-1.8,"y":0.2,"a":-1.796,"b":0.496},{"x":-1.8,"y":0.4,"a":-1.792,"b":0.696},{"x":-1.8,"y":0.6,"a":-1.788,"b":0.896},{"x":-1.8,"y":0.8,"a":-1.784,"b":1.096},{"x":-1.8,"y":1,"a":-1.78,"b":1.296},{"x":-1.8,"y":1.2,"a":-1.776,"b":1.496},{"x":-1.8,"y":1.4,"a":-1.772,"b":1.696},{"x":-1.8,"y":1.6,"a":-1.767,"b":1.896},{"x":-1.8,"y":1.8,"a":-1.763,"b":2.096},{"x":-1.8,"y":2,"a":-1.759,"b":2.296},{"x":-1.8,"y":2.2,"a":-1.755,"b":2.496},{"x":-1.8,"y":2.4,"a":-1.751,"b":2.696},{"x":-1.8,"y":2.6,"a":-1.747,"b":2.896},{"x":-1.8,"y":2.8,"a":-1.743,"b":3.096},{"x":-1.8,"y":3,"a":-1.739,"b":3.296},{"x":-1.8,"y":3.2,"a":-1.735,"b":3.496},{"x":-1.8,"y":3.4,"a":-1.731,"b":3.696},{"x":-1.8,"y":3.6,"a":-1.727,"b":3.896},{"x":-1.8,"y":3.8,"a":-1.723,"b":4.096},{"x":-1.8,"y":4,"a":-1.719,"b":4.296},
{"x":-1.5,"y":-4,"a":-1.581,"b":-3.73},{"x":-1.5,"y":-3.8,"a":-1.577,"b":-3.53},{"x":-1.5,"y":-3.6,"a":-1.573,"b":-3.33},{"x":-1.5,"y":-3.4,"a":-1.569,"b":-3.13},{"x":-1.5,"y":-3.2,"a":-1.565,"b":-2.93},{"x":-1.5,"y":-3,"a":-1.561,"b":-2.73},{"x":-1.5,"y":-2.8,"a":-1.557,"b":-2.53},{"x":-1.5,"y":-2.6,"a":-1.553,"b":-2.33},{"x":-1.5,"y":-2.4,"a":-1.549,"b":-2.13},{"x":-1.5,"y":-2.2,"a":-1.545,"b":-1.93},{"x":-1.5,"y":-2,"a":-1.541,"b":-1.73},{"x":-1.5,"y":-1.8,"a":-1.537,"b":-1.53},{"x":-1.5,"y":-1.6,"a":-1.533,"b":-1.33},{"x":-1.5,"y":-1.4,"a":-1.528,"b":-1.13},{"x":-1.5,"y":-1.2,"a":-1.524,"b":-0.93},{"x":-1.5,"y":-1,"a":-1.52,"b":-0.73},{"x":-1.5,"y":-0.8,"a":-1.516,"b":-0.53},{"x":-1.5,"y":-0.6,"a":-1.512,"b":-0.33},{"x":-1.5,"y":-0.4,"a":-1.508,"b":-0.13},{"x":-1.5,"y":-0.2,"a":-1.504,"b":0.07},{"x":-1.5,"y":0,"a":-1.5,"b":0.27},{"x":-1.5,"y":0.2,"a":-1.496,"b":0.47},{"x":-1.5,"y":0.4,"a":-1.492,"b":0.67},{"x":-1.5,"y":0.6,"a":-1.488,"b":0.87},{"x":-1.5,"y":0.8,"a":-1.484,"b":1.07},{"x":-1.5,"y":1,"a":-1.48,"b":1.27},{"x":-1.5,"y":1.2,"a":-1.476,"b":1.47},{"x":-1.5,"y":1.4,"a":-1.472,"b":1.67},{"x":-1.5,"y":1.6,"a":-1.467,"b":1.87},{"x":-1.5,"y":1.8,"a":-1.463,"b":2.07},{"x":-1.5,"y":2,"a":-1.459,"b":2.27},{"x":-1.5,"y":2.2,"a":-1.455,"b":2.47},{"x":-1.5,"y":2.4,"a":-1.451,"b":2.67},{"x":-1.5,"y":2.6,"a":-1.447,"b":2.87},{"x":-1.5,"y":2.8,"a":-1.443,"b":3.07},{"x":-1.5,"y":3,"a":-1.439,"b":3.27},{"x":-1.5,"y":3.2,"a":-1.435,"b":3.47},{"x":-1.5,"y":3.4,"a":-1.431,"b":3.67},{"x":-1.5,"y":3.6,"a":-1.427,"b":3.87},{"x":-1.5,"y":3.8,"a":-1.423,"b":4.07},{"x":-1.5,"y":4,"a":-1.419,"b":4.27},
{"x":-1.2,"y":-4,"a":-1.281,"b":-3.771},{"x":-1.2,"y":-3.8,"a":-1.277,"b":-3.571},{"x":-1.2,"y":-3.6,"a":-1.273,"b":-3.371},{"x":-1.2,"y":-3.4,"a":-1.269,"b":-3.171},{"x":-1.2,"y":-3.2,"a":-1.265,"b":-2.971},{"x":-1.2,"y":-3,"a":-1.261,"b":-2.771},{"x":-1.2,"y":-2.8,"a":-1.257,"b":-2.571},{"x":-1.2,"y":-2.6,"a":-1.253,"b":-2.371},{"x":-1.2,"y":-2.4,"a":-1.249,"b":-2.171},{"x":-1.2,"y":-2.2,"a":-1.245,"b":-1.971},{"x":-1.2,"y":-2,"a":-1.241,"b":-1.771},{"x":-1.2,"y":-1.8,"a":-1.237,"b":-1.571},{"x":-1.2,"y":-1.6,"a":-1.233,"b":-1.371},{"x":-1.2,"y":-1.4,"a":-1.228,"b":-1.171},{"x":-1.2,"y":-1.2,"a":-1.224,"b":-0.971},{"x":-1.2,"y":-1,"a":-1.22,"b":-0.771},{"x":-1.2,"y":-0.8,"a":-1.216,"b":-0.571},{"x":-1.2,"y":-0.6,"a":-1.212,"b":-0.371},{"x":-1.2,"y":-0.4,"a":-1.208,"b":-0.171},{"x":-1.2,"y":-0.2,"a":-1.204,"b":0.029},{"x":-1.2,"y":0,"a":-1.2,"b":0.229},{"x":-1.2,"y":0.2,"a":-1.196,"b":0.429},{"x":-1.2,"y":0.4,"a":-1.192,"b":0.629},{"x":-1.2,"y":0.6,"a":-1.188,"b":0.829},{"x":-1.2,"y":0.8,"a":-1.184,"b":1.029},{"x":-1.2,"y":1,"a":-1.18,"b":1.229},{"x":-1.2,"y":1.2,"a":-1.176,"b":1.429},{"x":-1.2,"y":1.4,"a":-1.172,"b":1.629},{"x":-1.2,"y":1.6,"a":-1.167,"b":1.829},{"x":-1.2,"y":1.8,"a":-1.163,"b":2.029},{"x":-1.2,"y":2,"a":-1.159,"b":2.229},{"x":-1.2,"y":2.2,"a":-1.155,"b":2.429},{"x":-1.2,"y":2.4,"a":-1.151,"b":2.629},{"x":-1.2,"y":2.6,"a":-1.147,"b":2.829},{"x":-1.2,"y":2.8,"a":-1.143,"b":3.029},{"x":-1.2,"y":3,"a":-1.139,"b":3.229},{"x":-1.2,"y":3.2,"a":-1.135,"b":3.429},{"x":-1.2,"y":3.4,"a":-1.131,"b":3.629},{"x":-1.2,"y":3.6,"a":-1.127,"b":3.829},{"x":-1.2,"y":3.8,"a":-1.123,"b":4.029},{"x":-1.2,"y":4,"a":-1.119,"b":4.229},
{"x":-0.9,"y":-4,"a":-0.981,"b":-3.824},{"x":-0.9,"y":-3.8,"a":-0.977,"b":-3.624},{"x":-0.9,"y":-3.6,"a":-0.973,"b":-3.424},{"x":-0.9,"y":-3.4,"a":-0.969,"b":-3.224},{"x":-0.9,"y":-3.2,"a":-0.965,"b":-3.024},{"x":-0.9,"y":-3,"a":-0.961,"b":-2.824},{"x":-0.9,"y":-2.8,"a":-0.957,"b":-2.624},{"x":-0.9,"y":-2.6,"a":-0.953,"b":-2.424},{"x":-0.9,"y":-2.4,"a":-0.949,"b":-2.224},{"x":-0.9,"y":-2.2,"a":-0.945,"b":-2.024},{"x":-0.9,"y":-2,"a":-0.941,"b":-1.824},{"x":-0.9,"y":-1.8,"a":-0.937,"b":-1.624},{"x":-0.9,"y":-1.6,"a":-0.933,"b":-1.424},{"x":-0.9,"y":-1.4,"a":-0.928,"b":-1.224},{"x":-0.9,"y":-1.2,"a":-0.924,"b":-1.024},{"x":-0.9,"y":-1,"a":-0.92,"b":-0.824},{"x":-0.9,"y":-0.8,"a":-0.916,"b":-0.624},{"x":-0.9,"y":-0.6,"a":-0.912,"b":-0.424},{"x":-0.9,"y":-0.4,"a":-0.908,"b":-0.224},{"x":-0.9,"y":-0.2,"a":-0.904,"b":-0.024},{"x":-0.9,"y":0,"a":-0.9,"b":0.176},{"x":-0.9,"y":0.2,"a":-0.896,"b":0.376},{"x":-0.9,"y":0.4,"a":-0.892,"b":0.576},{"x":-0.9,"y":0.6,"a":-0.888,"b":0.776},{"x":-0.9,"y":0.8,"a":-0.884,"b":0.976},{"x":-0.9,"y":1,"a":-0.88,"b":1.176},{"x":-0.9,"y":1.2,"a":-0.876,"b":1.376},{"x":-0.9,"y":1.4,"a":-0.872,"b":1.576},{"x":-0.9,"y":1.6,"a":-0.867,"b":1.776},{"x":-0.9,"y":1.8,"a":-0.863,"b":1.976},{"x":-0.9,"y":2,"a":-0.859,"b":2.176},{"x":-0.9,"y":2.2,"a":-0.855,"b":2.376},{"x":-0.9,"y":2.4,"a":-0.851,"b":2.576},{"x":-0.9,"y":2.6,"a":-0.847,"b":2.776},{"x":-0.9,"y":2.8,"a":-0.843,"b":2.976},{"x":-0.9,"y":3,"a":-0.839,"b":3.176},{"x":-0.9,"y":3.2,"a":-0.835,"b":3.376},{"x":-0.9,"y":3.4,"a":-0.831,"b":3.576},{"x":-0.9,"y":3.6,"a":-0.827,"b":3.776},{"x":-0.9,"y":3.8,"a":-0.823,"b":3.976},{"x":-0.9,"y":4,"a":-0.819,"b":4.176},
{"x":-0.6,"y":-4,"a":-0.681,"b":-3.883},{"x":-0.6,"y":-3.8,"a":-0.677,"b":-3.683},{"x":-0.6,"y":-3.6,"a":-0.673,"b":-3.483},{"x":-0.6,"y":-3.4,"a":-0.669,"b":-3.283},{"x":-0.6,"y":-3.2,"a":-0.665,"b":-3.083},{"x":-0.6,"y":-3,"a":-0.661,"b":-2.883},{"x":-0.6,"y":-2.8,"a":-0.657,"b":-2.683},{"x":-0.6,"y":-2.6,"a":-0.653,"b":-2.483},{"x":-0.6,"y":-2.4,"a":-0.649,"b":-2.283},{"x":-0.6,"y":-2.2,"a":-0.645,"b":-2.083},{"x":-0.6,"y":-2,"a":-0.641,"b":-1.883},{"x":-0.6,"y":-1.8,"a":-0.637,"b":-1.683},{"x":-0.6,"y":-1.6,"a":-0.633,"b":-1.483},{"x":-0.6,"y":-1.4,"a":-0.628,"b":-1.283},{"x":-0.6,"y":-1.2,"a":-0.624,"b":-1.083},{"x":-0.6,"y":-1,"a":-0.62,"b":-0.883},{"x":-0.6,"y":-0.8,"a":-0.616,"b":-0.683},{"x":-0.6,"y":-0.6,"a":-0.612,"b":-0.483},{"x":-0.6,"y":-0.4,"a":-0.608,"b":-0.283},{"x":-0.6,"y":-0.2,"a":-0.604,"b":-0.083},{"x":-0.6,"y":0,"a":-0.6,"b":0.117},{"x":-0.6,"y":0.2,"a":-0.596,"b":0.317},{"x":-0.6,"y":0.4,"a":-0.592,"b":0.517},{"x":-0.6,"y":0.6,"a":-0.588,"b":0.717},{"x":-0.6,"y":0.8,"a":-0.584,"b":0.917},{"x":-0.6,"y":1,"a":-0.58,"b":1.117},{"x":-0.6,"y":1.2,"a":-0.576,"b":1.317},{"x":-0.6,"y":1.4,"a":-0.572,"b":1.517},{"x":-0.6,"y":1.6,"a":-0.567,"b":1.717},{"x":-0.6,"y":1.8,"a":-0.563,"b":1.917},{"x":-0.6,"y":2,"a":-0.559,"b":2.117},{"x":-0.6,"y":2.2,"a":-0.555,"b":2.317},{"x":-0.6,"y":2.4,"a":-0.551,"b":2.517},{"x":-0.6,"y":2.6,"a":-0.547,"b":2.717},{"x":-0.6,"y":2.8,"a":-0.543,"b":2.917},{"x":-0.6,"y":3,"a":-0.539,"b":3.117},{"x":-0.6,"y":3.2,"a":-0.535,"b":3.317},{"x":-0.6,"y":3.4,"a":-0.531,"b":3.517},{"x":-0.6,"y":3.6,"a":-0.527,"b":3.717},{"x":-0.6,"y":3.8,"a":-0.523,"b":3.917},{"x":-0.6,"y":4,"a":-0.519,"b":4.117},
{"x":-0.3,"y":-4,"a":-0.381,"b":-3.943},{"x":-0.3,"y":-3.8,"a":-0.377,"b":-3.743},{"x":-0.3,"y":-3.6,"a":-0.373,"b":-3.543},{"x":-0.3,"y":-3.4,"a":-0.369,"b":-3.343},{"x":-0.3,"y":-3.2,"a":-0.365,"b":-3.143},{"x":-0.3,"y":-3,"a":-0.361,"b":-2.943},{"x":-0.3,"y":-2.8,"a":-0.357,"b":-2.743},{"x":-0.3,"y":-2.6,"a":-0.353,"b":-2.543},{"x":-0.3,"y":-2.4,"a":-0.349,"b":-2.343},{"x":-0.3,"y":-2.2,"a":-0.345,"b":-2.143},{"x":-0.3,"y":-2,"a":-0.341,"b":-1.943},{"x":-0.3,"y":-1.8,"a":-0.337,"b":-1.743},{"x":-0.3,"y":-1.6,"a":-0.333,"b":-1.543},{"x":-0.3,"y":-1.4,"a":-0.328,"b":-1.343},{"x":-0.3,"y":-1.2,"a":-0.324,"b":-1.143},{"x":-0.3,"y":-1,"a":-0.32,"b":-0.943},{"x":-0.3,"y":-0.8,"a":-0.316,"b":-0.743},{"x":-0.3,"y":-0.6,"a":-0.312,"b":-0.543},{"x":-0.3,"y":-0.4,"a":-0.308,"b":-0.343},{"x":-0.3,"y":-0.2,"a":-0.304,"b":-0.143},{"x":-0.3,"y":0,"a":-0.3,"b":0.057},{"x":-0.3,"y":0.2,"a":-0.296,"b":0.257},{"x":-0.3,"y":0.4,"a":-0.292,"b":0.457},{"x":-0.3,"y":0.6,"a":-0.288,"b":0.657},{"x":-0.3,"y":0.8,"a":-0.284,"b":0.857},{"x":-0.3,"y":1,"a":-0.28,"b":1.057},{"x":-0.3,"y":1.2,"a":-0.276,"b":1.257},{"x":-0.3,"y":1.4,"a":-0.272,"b":1.457},{"x":-0.3,"y":1.6,"a":-0.267,"b":1.657},{"x":-0.3,"y":1.8,"a":-0.263,"b":1.857},{"x":-0.3,"y":2,"a":-0.259,"b":2.057},{"x":-0.3,"y":2.2,"a":-0.255,"b":2.257},{"x":-0.3,"y":2.4,"a":-0.251,"b":2.457},{"x":-0.3,"y":2.6,"a":-0.247,"b":2.657},{"x":-0.3,"y":2.8,"a":-0.243,"b":2.857},{"x":-0.3,"y":3,"a":-0.239,"b":3.057},{"x":-0.3,"y":3.2,"a":-0.235,"b":3.257},{"x":-0.3,"y":3.4,"a":-0.231,"b":3.457},{"x":-0.3,"y":3.6,"a":-0.227,"b":3.657},{"x":-0.3,"y":3.8,"a":-0.223,"b":3.857},{"x":-0.3,"y":4,"a":-0.219,"b":4.057},
{"x":0,"y":-4,"a":-0.081,"b":-4},{"x":0,"y":-3.8,"a":-0.077,"b":-3.8},{"x":0,"y":-3.6,"a":-0.073,"b":-3.6},{"x":0,"y":-3.4,"a":-0.069,"b":-3.4},{"x":0,"y":-3.2,"a":-0.065,"b":-3.2},{"x":0,"y":-3,"a":-0.061,"b":-3},{"x":0,"y":-2.8,"a":-0.057,"b":-2.8},{"x":0,"y":-2.6,"a":-0.053,"b":-2.6},{"x":0,"y":-2.4,"a":-0.049,"b":-2.4},{"x":0,"y":-2.2,"a":-0.045,"b":-2.2},{"x":0,"y":-2,"a":-0.041,"b":-2},{"x":0,"y":-1.8,"a":-0.037,"b":-1.8},{"x":0,"y":-1.6,"a":-0.033,"b":-1.6},{"x":0,"y":-1.4,"a":-0.028,"b":-1.4},{"x":0,"y":-1.2,"a":-0.024,"b":-1.2},{"x":0,"y":-1,"a":-0.02,"b":-1},{"x":0,"y":-0.8,"a":-0.016,"b":-0.8},{"x":0,"y":-0.6,"a":-0.012,"b":-0.6},{"x":0,"y":-0.4,"a":-0.008,"b":-0.4},{"x":0,"y":-0.2,"a":-0.004,"b":-0.2},{"x":0,"y":0,"a":0,"b":0},{"x":0,"y":0.2,"a":0.004,"b":0.2},{"x":0,"y":0.4,"a":0.008,"b":0.4},{"x":0,"y":0.6,"a":0.012,"b":0.6},{"x":0,"y":0.8,"a":0.016,"b":0.8},{"x":0,"y":1,"a":0.02,"b":1},{"x":0,"y":1.2,"a":0.024,"b":1.2},{"x":0,"y":1.4,"a":0.028,"b":1.4},{"x":0,"y":1.6,"a":0.033,"b":1.6},{"x":0,"y":1.8,"a":0.037,"b":1.8},{"x":0,"y":2,"a":0.041,"b":2},{"x":0,"y":2.2,"a":0.045,"b":2.2},{"x":0,"y":2.4,"a":0.049,"b":2.4},{"x":0,"y":2.6,"a":0.053,"b":2.6},{"x":0,"y":2.8,"a":0.057,"b":2.8},{"x":0,"y":3,"a":0.061,"b":3},{"x":0,"y":3.2,"a":0.065,"b":3.2},{"x":0,"y":3.4,"a":0.069,"b":3.4},{"x":0,"y":3.6,"a":0.073,"b":3.6},{"x":0,"y":3.8,"a":0.077,"b":3.8},{"x":0,"y":4,"a":0.081,"b":4},
{"x":0.3,"y":-4,"a":0.219,"b":-4.047},{"x":0.3,"y":-3.8,"a":0.223,"b":-3.847},{"x":0.3,"y":-3.6,"a":0.227,"b":-3.647},{"x":0.3,"y":-3.4,"a":0.231,"b":-3.447},{"x":0.3,"y":-3.2,"a":0.235,"b":-3.247},{"x":0.3,"y":-3,"a":0.239,"b":-3.047},{"x":0.3,"y":-2.8,"a":0.243,"b":-2.847},{"x":0.3,"y":-2.6,"a":0.247,"b":-2.647},{"x":0.3,"y":-2.4,"a":0.251,"b":-2.447},{"x":0.3,"y":-2.2,"a":0.255,"b":-2.247},{"x":0.3,"y":-2,"a":0.259,"b":-2.047},{"x":0.3,"y":-1.8,"a":0.263,"b":-1.847},{"x":0.3,"y":-1.6,"a":0.267,"b":-1.647},{"x":0.3,"y":-1.4,"a":0.272,"b":-1.447},{"x":0.3,"y":-1.2,"a":0.276,"b":-1.247},{"x":0.3,"y":-1,"a":0.28,"b":-1.047},{"x":0.3,"y":-0.8,"a":0.284,"b":-0.847},{"x":0.3,"y":-0.6,"a":0.288,"b":-0.647},{"x":0.3,"y":-0.4,"a":0.292,"b":-0.447},{"x":0.3,"y":-0.2,"a":0.296,"b":-0.247},{"x":0.3,"y":0,"a":0.3,"b":-0.047},{"x":0.3,"y":0.2,"a":0.304,"b":0.153},{"x":0.3,"y":0.4,"a":0.308,"b":0.353},{"x":0.3,"y":0.6,"a":0.312,"b":0.553},{"x":0.3,"y":0.8,"a":0.316,"b":0.753},{"x":0.3,"y":1,"a":0.32,"b":0.953},{"x":0.3,"y":1.2,"a":0.324,"b":1.153},{"x":0.3,"y":1.4,"a":0.328,"b":1.353},{"x":0.3,"y":1.6,"a":0.333,"b":1.553},{"x":0.3,"y":1.8,"a":0.337,"b":1.753},{"x":0.3,"y":2,"a":0.341,"b":1.953},{"x":0.3,"y":2.2,"a":0.345,"b":2.153},{"x":0.3,"y":2.4,"a":0.349,"b":2.353},{"x":0.3,"y":2.6,"a":0.353,"b":2.553},{"x":0.3,"y":2.8,"a":0.357,"b":2.753},{"x":0.3,"y":3,"a":0.361,"b":2.953},{"x":0.3,"y":3.2,"a":0.365,"b":3.153},{"x":0.3,"y":3.4,"a":0.369,"b":3.353},{"x":0.3,"y":3.6,"a":0.373,"b":3.553},{"x":0.3,"y":3.8,"a":0.377,"b":3.753},{"x":0.3,"y":4,"a":0.381,"b":3.953},
{"x":0.6,"y":-4,"a":0.519,"b":-4.082},{"x":0.6,"y":-3.8,"a":0.523,"b":-3.882},{"x":0.6,"y":-3.6,"a":0.527,"b":-3.682},{"x":0.6,"y":-3.4,"a":0.531,"b":-3.482},{"x":0.6,"y":-3.2,"a":0.535,"b":-3.282},{"x":0.6,"y":-3,"a":0.539,"b":-3.082},{"x":0.6,"y":-2.8,"a":0.543,"b":-2.882},{"x":0.6,"y":-2.6,"a":0.547,"b":-2.682},{"x":0.6,"y":-2.4,"a":0.551,"b":-2.482},{"x":0.6,"y":-2.2,"a":0.555,"b":-2.282},{"x":0.6,"y":-2,"a":0.559,"b":-2.082},{"x":0.6,"y":-1.8,"a":0.563,"b":-1.882},{"x":0.6,"y":-1.6,"a":0.567,"b":-1.682},{"x":0.6,"y":-1.4,"a":0.572,"b":-1.482},{"x":0.6,"y":-1.2,"a":0.576,"b":-1.282},{"x":0.6,"y":-1,"a":0.58,"b":-1.082},{"x":0.6,"y":-0.8,"a":0.584,"b":-0.882},{"x":0.6,"y":-0.6,"a":0.588,"b":-0.682},{"x":0.6,"y":-0.4,"a":0.592,"b":-0.482},{"x":0.6,"y":-0.2,"a":0.596,"b":-0.282},{"x":0.6,"y":0,"a":0.6,"b":-0.082},{"x":0.6,"y":0.2,"a":0.604,"b":0.118},{"x":0.6,"y":0.4,"a":0.608,"b":0.318},{"x":0.6,"y":0.6,"a":0.612,"b":0.518},{"x":0.6,"y":0.8,"a":0.616,"b":0.718},{"x":0.6,"y":1,"a":0.62,"b":0.918},{"x":0.6,"y":1.2,"a":0.624,"b":1.118},{"x":0.6,"y":1.4,"a":0.628,"b":1.318},{"x":0.6,"y":1.6,"a":0.633,"b":1.518},{"x":0.6,"y":1.8,"a":0.637,"b":1.718},{"x":0.6,"y":2,"a":0.641,"b":1.918},{"x":0.6,"y":2.2,"a":0.645,"b":2.118},{"x":0.6,"y":2.4,"a":0.649,"b":2.318},{"x":0.6,"y":2.6,"a":0.653,"b":2.518},{"x":0.6,"y":2.8,"a":0.657,"b":2.718},{"x":0.6,"y":3,"a":0.661,"b":2.918},{"x":0.6,"y":3.2,"a":0.665,"b":3.118},{"x":0.6,"y":3.4,"a":0.669,"b":3.318},{"x":0.6,"y":3.6,"a":0.673,"b":3.518},{"x":0.6,"y":3.8,"a":0.677,"b":3.718},{"x":0.6,"y":4,"a":0.681,"b":3.918},
{"x":0.9,"y":-4,"a":0.819,"b":-4.099},{"x":0.9,"y":-3.8,"a":0.823,"b":-3.899},{"x":0.9,"y":-3.6,"a":0.827,"b":-3.699},{"x":0.9,"y":-3.4,"a":0.831,"b":-3.499},{"x":0.9,"y":-3.2,"a":0.835,"b":-3.299},{"x":0.9,"y":-3,"a":0.839,"b":-3.099},{"x":0.9,"y":-2.8,"a":0.843,"b":-2.899},{"x":0.9,"y":-2.6,"a":0.847,"b":-2.699},{"x":0.9,"y":-2.4,"a":0.851,"b":-2.499},{"x":0.9,"y":-2.2,"a":0.855,"b":-2.299},{"x":0.9,"y":-2,"a":0.859,"b":-2.099},{"x":0.9,"y":-1.8,"a":0.863,"b":-1.899},{"x":0.9,"y":-1.6,"a":0.867,"b":-1.699},{"x":0.9,"y":-1.4,"a":0.872,"b":-1.499},{"x":0.9,"y":-1.2,"a":0.876,"b":-1.299},{"x":0.9,"y":-1,"a":0.88,"b":-1.099},{"x":0.9,"y":-0.8,"a":0.884,"b":-0.899},{"x":0.9,"y":-0.6,"a":0.888,"b":-0.699},{"x":0.9,"y":-0.4,"a":0.892,"b":-0.499},{"x":0.9,"y":-0.2,"a":0.896,"b":-0.299},{"x":0.9,"y":0,"a":0.9,"b":-0.099},{"x":0.9,"y":0.2,"a":0.904,"b":0.101},{"x":0.9,"y":0.4,"a":0.908,"b":0.301},{"x":0.9,"y":0.6,"a":0.912,"b":0.501},{"x":0.9,"y":0.8,"a":0.916,"b":0.701},{"x":0.9,"y":1,"a":0.92,"b":0.901},{"x":0.9,"y":1.2,"a":0.924,"b":1.101},{"x":0.9,"y":1.4,"a":0.928,"b":1.301},{"x":0.9,"y":1.6,"a":0.933,"b":1.501},{"x":0.9,"y":1.8,"a":0.937,"b":1.701},{"x":0.9,"y":2,"a":0.941,"b":1.901},{"x":0.9,"y":2.2,"a":0.945,"b":2.101},{"x":0.9,"y":2.4,"a":0.949,"b":2.301},{"x":0.9,"y":2.6,"a":0.953,"b":2.501},{"x":0.9,"y":2.8,"a":0.957,"b":2.701},{"x":0.9,"y":3,"a":0.961,"b":2.901},{"x":0.9,"y":3.2,"a":0.965,"b":3.101},{"x":0.9,"y":3.4,"a":0.969,"b":3.301},{"x":0.9,"y":3.6,"a":0.973,"b":3.501},{"x":0.9,"y":3.8,"a":0.977,"b":3.701},{"x":0.9,"y":4,"a":0.981,"b":3.901},
{"x":1.2,"y":-4,"a":1.119,"b":-4.099},{"x":1.2,"y":-3.8,"a":1.123,"b":-3.899},{"x":1.2,"y":-3.6,"a":1.127,"b":-3.699},{"x":1.2,"y":-3.4,"a":1.131,"b":-3.499},{"x":1.2,"y":-3.2,"a":1.135,"b":-3.299},{"x":1.2,"y":-3,"a":1.139,"b":-3.099},{"x":1.2,"y":-2.8,"a":1.143,"b":-2.899},{"x":1.2,"y":-2.6,"a":1.147,"b":-2.699},{"x":1.2,"y":-2.4,"a":1.151,"b":-2.499},{"x":1.2,"y":-2.2,"a":1.155,"b":-2.299},{"x":1.2,"y":-2,"a":1.159,"b":-2.099},{"x":1.2,"y":-1.8,"a":1.163,"b":-1.899},{"x":1.2,"y":-1.6,"a":1.167,"b":-1.699},{"x":1.2,"y":-1.4,"a":1.172,"b":-1.499},{"x":1.2,"y":-1.2,"a":1.176,"b":-1.299},{"x":1.2,"y":-1,"a":1.18,"b":-1.099},{"x":1.2,"y":-0.8,"a":1.184,"b":-0.899},{"x":1.2,"y":-0.6,"a":1.188,"b":-0.699},{"x":1.2,"y":-0.4,"a":1.192,"b":-0.499},{"x":1.2,"y":-0.2,"a":1.196,"b":-0.299},{"x":1.2,"y":0,"a":1.2,"b":-0.099},{"x":1.2,"y":0.2,"a":1.204,"b":0.101},{"x":1.2,"y":0.4,"a":1.208,"b":0.301},{"x":1.2,"y":0.6,"a":1.212,"b":0.501},{"x":1.2,"y":0.8,"a":1.216,"b":0.701},{"x":1.2,"y":1,"a":1.22,"b":0.901},{"x":1.2,"y":1.2,"a":1.224,"b":1.101},{"x":1.2,"y":1.4,"a":1.228,"b":1.301},{"x":1.2,"y":1.6,"a":1.233,"b":1.501},{"x":1.2,"y":1.8,"a":1.237,"b":1.701},{"x":1.2,"y":2,"a":1.241,"b":1.901},{"x":1.2,"y":2.2,"a":1.245,"b":2.101},{"x":1.2,"y":2.4,"a":1.249,"b":2.301},{"x":1.2,"y":2.6,"a":1.253,"b":2.501},{"x":1.2,"y":2.8,"a":1.257,"b":2.701},{"x":1.2,"y":3,"a":1.261,"b":2.901},{"x":1.2,"y":3.2,"a":1.265,"b":3.101},{"x":1.2,"y":3.4,"a":1.269,"b":3.301},{"x":1.2,"y":3.6,"a":1.273,"b":3.501},{"x":1.2,"y":3.8,"a":1.277,"b":3.701},{"x":1.2,"y":4,"a":1.281,"b":3.901},
{"x":1.5,"y":-4,"a":1.419,"b":-4.081},{"x":1.5,"y":-3.8,"a":1.423,"b":-3.881},{"x":1.5,"y":-3.6,"a":1.427,"b":-3.681},{"x":1.5,"y":-3.4,"a":1.431,"b":-3.481},{"x":1.5,"y":-3.2,"a":1.435,"b":-3.281},{"x":1.5,"y":-3,"a":1.439,"b":-3.081},{"x":1.5,"y":-2.8,"a":1.443,"b":-2.881},{"x":1.5,"y":-2.6,"a":1.447,"b":-2.681},{"x":1.5,"y":-2.4,"a":1.451,"b":-2.481},{"x":1.5,"y":-2.2,"a":1.455,"b":-2.281},{"x":1.5,"y":-2,"a":1.459,"b":-2.081},{"x":1.5,"y":-1.8,"a":1.463,"b":-1.881},{"x":1.5,"y":-1.6,"a":1.467,"b":-1.681},{"x":1.5,"y":-1.4,"a":1.472,"b":-1.481},{"x":1.5,"y":-1.2,"a":1.476,"b":-1.281},{"x":1.5,"y":-1,"a":1.48,"b":-1.081},{"x":1.5,"y":-0.8,"a":1.484,"b":-0.881},{"x":1.5,"y":-0.6,"a":1.488,"b":-0.681},{"x":1.5,"y":-0.4,"a":1.492,"b":-0.481},{"x":1.5,"y":-0.2,"a":1.496,"b":-0.281},{"x":1.5,"y":0,"a":1.5,"b":-0.081},{"x":1.5,"y":0.2,"a":1.504,"b":0.119},{"x":1.5,"y":0.4,"a":1.508,"b":0.319},{"x":1.5,"y":0.6,"a":1.512,"b":0.519},{"x":1.5,"y":0.8,"a":1.516,"b":0.719},{"x":1.5,"y":1,"a":1.52,"b":0.919},{"x":1.5,"y":1.2,"a":1.524,"b":1.119},{"x":1.5,"y":1.4,"a":1.528,"b":1.319},{"x":1.5,"y":1.6,"a":1.533,"b":1.519},{"x":1.5,"y":1.8,"a":1.537,"b":1.719},{"x":1.5,"y":2,"a":1.541,"b":1.919},{"x":1.5,"y":2.2,"a":1.545,"b":2.119},{"x":1.5,"y":2.4,"a":1.549,"b":2.319},{"x":1.5,"y":2.6,"a":1.553,"b":2.519},{"x":1.5,"y":2.8,"a":1.557,"b":2.719},{"x":1.5,"y":3,"a":1.561,"b":2.919},{"x":1.5,"y":3.2,"a":1.565,"b":3.119},{"x":1.5,"y":3.4,"a":1.569,"b":3.319},{"x":1.5,"y":3.6,"a":1.573,"b":3.519},{"x":1.5,"y":3.8,"a":1.577,"b":3.719},{"x":1.5,"y":4,"a":1.581,"b":3.919},
{"x":1.8,"y":-4,"a":1.719,"b":-4.047},{"x":1.8,"y":-3.8,"a":1.723,"b":-3.847},{"x":1.8,"y":-3.6,"a":1.727,"b":-3.647},{"x":1.8,"y":-3.4,"a":1.731,"b":-3.447},{"x":1.8,"y":-3.2,"a":1.735,"b":-3.247},{"x":1.8,"y":-3,"a":1.739,"b":-3.047},{"x":1.8,"y":-2.8,"a":1.743,"b":-2.847},{"x":1.8,"y":-2.6,"a":1.747,"b":-2.647},{"x":1.8,"y":-2.4,"a":1.751,"b":-2.447},{"x":1.8,"y":-2.2,"a":1.755,"b":-2.247},{"x":1.8,"y":-2,"a":1.759,"b":-2.047},{"x":1.8,"y":-1.8,"a":1.763,"b":-1.847},{"x":1.8,"y":-1.6,"a":1.767,"b":-1.647},{"x":1.8,"y":-1.4,"a":1.772,"b":-1.447},{"x":1.8,"y":-1.2,"a":1.776,"b":-1.247},{"x":1.8,"y":-1,"a":1.78,"b":-1.047},{"x":1.8,"y":-0.8,"a":1.784,"b":-0.847},{"x":1.8,"y":-0.6,"a":1.788,"b":-0.647},{"x":1.8,"y":-0.4,"a":1.792,"b":-0.447},{"x":1.8,"y":-0.2,"a":1.796,"b":-0.247},{"x":1.8,"y":0,"a":1.8,"b":-0.047},{"x":1.8,"y":0.2,"a":1.804,"b":0.153},{"x":1.8,"y":0.4,"a":1.808,"b":0.353},{"x":1.8,"y":0.6,"a":1.812,"b":0.553},{"x":1.8,"y":0.8,"a":1.816,"b":0.753},{"x":1.8,"y":1,"a":1.82,"b":0.953},{"x":1.8,"y":1.2,"a":1.824,"b":1.153},{"x":1.8,"y":1.4,"a":1.828,"b":1.353},{"x":1.8,"y":1.6,"a":1.833,"b":1.553},{"x":1.8,"y":1.8,"a":1.837,"b":1.753},{"x":1.8,"y":2,"a":1.841,"b":1.953},{"x":1.8,"y":2.2,"a":1.845,"b":2.153},{"x":1.8,"y":2.4,"a":1.849,"b":2.353},{"x":1.8,"y":2.6,"a":1.853,"b":2.553},{"x":1.8,"y":2.8,"a":1.857,"b":2.753},{"x":1.8,"y":3,"a":1.861,"b":2.953},{"x":1.8,"y":3.2,"a":1.865,"b":3.153},{"x":1.8,"y":3.4,"a":1.869,"b":3.353},{"x":1.8,"y":3.6,"a":1.873,"b":3.553},{"x":1.8,"y":3.8,"a":1.877,"b":3.753},{"x":1.8,"y":4,"a":1.881,"b":3.953},
{"x":2.1,"y":-4,"a":2.019,"b":-3.999},{"x":2.1,"y":-3.8,"a":2.023,"b":-3.799},{"x":2.1,"y":-3.6,"a":2.027,"b":-3.599},{"x":2.1,"y":-3.4,"a":2.031,"b":-3.399},{"x":2.1,"y":-3.2,"a":2.035,"b":-3.199},{"x":2.1,"y":-3,"a":2.039,"b":-2.999},{"x":2.1,"y":-2.8,"a":2.043,"b":-2.799},{"x":2.1,"y":-2.6,"a":2.047,"b":-2.599},{"x":2.1,"y":-2.4,"a":2.051,"b":-2.399},{"x":2.1,"y":-2.2,"a":2.055,"b":-2.199},{"x":2.1,"y":-2,"a":2.059,"b":-1.999},{"x":2.1,"y":-1.8,"a":2.063,"b":-1.799},{"x":2.1,"y":-1.6,"a":2.067,"b":-1.599},{"x":2.1,"y":-1.4,"a":2.072,"b":-1.399},{"x":2.1,"y":-1.2,"a":2.076,"b":-1.199},{"x":2.1,"y":-1,"a":2.08,"b":-0.999},{"x":2.1,"y":-0.8,"a":2.084,"b":-0.799},{"x":2.1,"y":-0.6,"a":2.088,"b":-0.599},{"x":2.1,"y":-0.4,"a":2.092,"b":-0.399},{"x":2.1,"y":-0.2,"a":2.096,"b":-0.199},{"x":2.1,"y":0,"a":2.1,"b":0.001},{"x":2.1,"y":0.2,"a":2.104,"b":0.201},{"x":2.1,"y":0.4,"a":2.108,"b":0.401},{"x":2.1,"y":0.6,"a":2.112,"b":0.601},{"x":2.1,"y":0.8,"a":2.116,"b":0.801},{"x":2.1,"y":1,"a":2.12,"b":1.001},{"x":2.1,"y":1.2,"a":2.124,"b":1.201},{"x":2.1,"y":1.4,"a":2.128,"b":1.401},{"x":2.1,"y":1.6,"a":2.133,"b":1.601},{"x":2.1,"y":1.8,"a":2.137,"b":1.801},{"x":2.1,"y":2,"a":2.141,"b":2.001},{"x":2.1,"y":2.2,"a":2.145,"b":2.201},{"x":2.1,"y":2.4,"a":2.149,"b":2.401},{"x":2.1,"y":2.6,"a":2.153,"b":2.601},{"x":2.1,"y":2.8,"a":2.157,"b":2.801},{"x":2.1,"y":3,"a":2.161,"b":3.001},{"x":2.1,"y":3.2,"a":2.165,"b":3.201},{"x":2.1,"y":3.4,"a":2.169,"b":3.401},{"x":2.1,"y":3.6,"a":2.173,"b":3.601},{"x":2.1,"y":3.8,"a":2.177,"b":3.801},{"x":2.1,"y":4,"a":2.181,"b":4.001},
{"x":2.4,"y":-4,"a":2.319,"b":-3.942},{"x":2.4,"y":-3.8,"a":2.323,"b":-3.742},{"x":2.4,"y":-3.6,"a":2.327,"b":-3.542},{"x":2.4,"y":-3.4,"a":2.331,"b":-3.342},{"x":2.4,"y":-3.2,"a":2.335,"b":-3.142},{"x":2.4,"y":-3,"a":2.339,"b":-2.942},{"x":2.4,"y":-2.8,"a":2.343,"b":-2.742},{"x":2.4,"y":-2.6,"a":2.347,"b":-2.542},{"x":2.4,"y":-2.4,"a":2.351,"b":-2.342},{"x":2.4,"y":-2.2,"a":2.355,"b":-2.142},{"x":2.4,"y":-2,"a":2.359,"b":-1.942},{"x":2.4,"y":-1.8,"a":2.363,"b":-1.742},{"x":2.4,"y":-1.6,"a":2.367,"b":-1.542},{"x":2.4,"y":-1.4,"a":2.372,"b":-1.342},{"x":2.4,"y":-1.2,"a":2.376,"b":-1.142},{"x":2.4,"y":-1,"a":2.38,"b":-0.942},{"x":2.4,"y":-0.8,"a":2.384,"b":-0.742},{"x":2.4,"y":-0.6,"a":2.388,"b":-0.542},{"x":2.4,"y":-0.4,"a":2.392,"b":-0.342},{"x":2.4,"y":-0.2,"a":2.396,"b":-0.142},{"x":2.4,"y":0,"a":2.4,"b":0.058},{"x":2.4,"y":0.2,"a":2.404,"b":0.258},{"x":2.4,"y":0.4,"a":2.408,"b":0.458},{"x":2.4,"y":0.6,"a":2.412,"b":0.658},{"x":2.4,"y":0.8,"a":2.416,"b":0.858},{"x":2.4,"y":1,"a":2.42,"b":1.058},{"x":2.4,"y":1.2,"a":2.424,"b":1.258},{"x":2.4,"y":1.4,"a":2.428,"b":1.458},{"x":2.4,"y":1.6,"a":2.433,"b":1.658},{"x":2.4,"y":1.8,"a":2.437,"b":1.858},{"x":2.4,"y":2,"a":2.441,"b":2.058},{"x":2.4,"y":2.2,"a":2.445,"b":2.258},{"x":2.4,"y":2.4,"a":2.449,"b":2.458},{"x":2.4,"y":2.6,"a":2.453,"b":2.658},{"x":2.4,"y":2.8,"a":2.457,"b":2.858},{"x":2.4,"y":3,"a":2.461,"b":3.058},{"x":2.4,"y":3.2,"a":2.465,"b":3.258},{"x":2.4,"y":3.4,"a":2.469,"b":3.458},{"x":2.4,"y":3.6,"a":2.473,"b":3.658},{"x":2.4,"y":3.8,"a":2.477,"b":3.858},{"x":2.4,"y":4,"a":2.481,"b":4.058},
{"x":2.7,"y":-4,"a":2.619,"b":-3.882},{"x":2.7,"y":-3.8,"a":2.623,"b":-3.682},{"x":2.7,"y":-3.6,"a":2.627,"b":-3.482},{"x":2.7,"y":-3.4,"a":2.631,"b":-3.282},{"x":2.7,"y":-3.2,"a":2.635,"b":-3.082},{"x":2.7,"y":-3,"a":2.639,"b":-2.882},{"x":2.7,"y":-2.8,"a":2.643,"b":-2.682},{"x":2.7,"y":-2.6,"a":2.647,"b":-2.482},{"x":2.7,"y":-2.4,"a":2.651,"b":-2.282},{"x":2.7,"y":-2.2,"a":2.655,"b":-2.082},{"x":2.7,"y":-2,"a":2.659,"b":-1.882},{"x":2.7,"y":-1.8,"a":2.663,"b":-1.682},{"x":2.7,"y":-1.6,"a":2.667,"b":-1.482},{"x":2.7,"y":-1.4,"a":2.672,"b":-1.282},{"x":2.7,"y":-1.2,"a":2.676,"b":-1.082},{"x":2.7,"y":-1,"a":2.68,"b":-0.882},{"x":2.7,"y":-0.8,"a":2.684,"b":-0.682},{"x":2.7,"y":-0.6,"a":2.688,"b":-0.482},{"x":2.7,"y":-0.4,"a":2.692,"b":-0.282},{"x":2.7,"y":-0.2,"a":2.696,"b":-0.082},{"x":2.7,"y":0,"a":2.7,"b":0.118},{"x":2.7,"y":0.2,"a":2.704,"b":0.318},{"x":2.7,"y":0.4,"a":2.708,"b":0.518},{"x":2.7,"y":0.6,"a":2.712,"b":0.718},{"x":2.7,"y":0.8,"a":2.716,"b":0.918},{"x":2.7,"y":1,"a":2.72,"b":1.118},{"x":2.7,"y":1.2,"a":2.724,"b":1.318},{"x":2.7,"y":1.4,"a":2.728,"b":1.518},{"x":2.7,"y":1.6,"a":2.733,"b":1.718},{"x":2.7,"y":1.8,"a":2.737,"b":1.918},{"x":2.7,"y":2,"a":2.741,"b":2.118},{"x":2.7,"y":2.2,"a":2.745,"b":2.318},{"x":2.7,"y":2.4,"a":2.749,"b":2.518},{"x":2.7,"y":2.6,"a":2.753,"b":2.718},{"x":2.7,"y":2.8,"a":2.757,"b":2.918},{"x":2.7,"y":3,"a":2.761,"b":3.118},{"x":2.7,"y":3.2,"a":2.765,"b":3.318},{"x":2.7,"y":3.4,"a":2.769,"b":3.518},{"x":2.7,"y":3.6,"a":2.773,"b":3.718},{"x":2.7,"y":3.8,"a":2.777,"b":3.918},{"x":2.7,"y":4,"a":2.781,"b":4.118},
{"x":3,"y":-4,"a":2.919,"b":-3.823},{"x":3,"y":-3.8,"a":2.923,"b":-3.623},{"x":3,"y":-3.6,"a":2.927,"b":-3.423},{"x":3,"y":-3.4,"a":2.931,"b":-3.223},{"x":3,"y":-3.2,"a":2.935,"b":-3.023},{"x":3,"y":-3,"a":2.939,"b":-2.823},{"x":3,"y":-2.8,"a":2.943,"b":-2.623},{"x":3,"y":-2.6,"a":2.947,"b":-2.423},{"x":3,"y":-2.4,"a":2.951,"b":-2.223},{"x":3,"y":-2.2,"a":2.955,"b":-2.023},{"x":3,"y":-2,"a":2.959,"b":-1.823},{"x":3,"y":-1.8,"a":2.963,"b":-1.623},{"x":3,"y":-1.6,"a":2.967,"b":-1.423},{"x":3,"y":-1.4,"a":2.972,"b":-1.223},{"x":3,"y":-1.2,"a":2.976,"b":-1.023},{"x":3,"y":-1,"a":2.98,"b":-0.823},{"x":3,"y":-0.8,"a":2.984,"b":-0.623},{"x":3,"y":-0.6,"a":2.988,"b":-0.423},{"x":3,"y":-0.4,"a":2.992,"b":-0.223},{"x":3,"y":-0.2,"a":2.996,"b":-0.023},{"x":3,"y":0,"a":3,"b":0.177},{"x":3,"y":0.2,"a":3.004,"b":0.377},{"x":3,"y":0.4,"a":3.008,"b":0.577},{"x":3,"y":0.6,"a":3.012,"b":0.777},{"x":3,"y":0.8,"a":3.016,"b":0.977},{"x":3,"y":1,"a":3.02,"b":1.177},{"x":3,"y":1.2,"a":3.024,"b":1.377},{"x":3,"y":1.4,"a":3.028,"b":1.577},{"x":3,"y":1.6,"a":3.033,"b":1.777},{"x":3,"y":1.8,"a":3.037,"b":1.977},{"x":3,"y":2,"a":3.041,"b":2.177},{"x":3,"y":2.2,"a":3.045,"b":2.377},{"x":3,"y":2.4,"a":3.049,"b":2.577},{"x":3,"y":2.6,"a":3.053,"b":2.777},{"x":3,"y":2.8,"a":3.057,"b":2.977},{"x":3,"y":3,"a":3.061,"b":3.177},{"x":3,"y":3.2,"a":3.065,"b":3.377},{"x":3,"y":3.4,"a":3.069,"b":3.577},{"x":3,"y":3.6,"a":3.073,"b":3.777},{"x":3,"y":3.8,"a":3.077,"b":3.977},{"x":3,"y":4,"a":3.081,"b":4.177},
{"x":3.3,"y":-4,"a":3.219,"b":-3.77},{"x":3.3,"y":-3.8,"a":3.223,"b":-3.57},{"x":3.3,"y":-3.6,"a":3.227,"b":-3.37},{"x":3.3,"y":-3.4,"a":3.231,"b":-3.17},{"x":3.3,"y":-3.2,"a":3.235,"b":-2.97},{"x":3.3,"y":-3,"a":3.239,"b":-2.77},{"x":3.3,"y":-2.8,"a":3.243,"b":-2.57},{"x":3.3,"y":-2.6,"a":3.247,"b":-2.37},{"x":3.3,"y":-2.4,"a":3.251,"b":-2.17},{"x":3.3,"y":-2.2,"a":3.255,"b":-1.97},{"x":3.3,"y":-2,"a":3.259,"b":-1.77},{"x":3.3,"y":-1.8,"a":3.263,"b":-1.57},{"x":3.3,"y":-1.6,"a":3.267,"b":-1.37},{"x":3.3,"y":-1.4,"a":3.272,"b":-1.17},{"x":3.3,"y":-1.2,"a":3.276,"b":-0.97},{"x":3.3,"y":-1,"a":3.28,"b":-0.77},{"x":3.3,"y":-0.8,"a":3.284,"b":-0.57},{"x":3.3,"y":-0.6,"a":3.288,"b":-0.37},{"x":3.3,"y":-0.4,"a":3.292,"b":-0.17},{"x":3.3,"y":-0.2,"a":3.296,"b":0.03},{"x":3.3,"y":0,"a":3.3,"b":0.23},{"x":3.3,"y":0.2,"a":3.304,"b":0.43},{"x":3.3,"y":0.4,"a":3.308,"b":0.63},{"x":3.3,"y":0.6,"a":3.312,"b":0.83},{"x":3.3,"y":0.8,"a":3.316,"b":1.03},{"x":3.3,"y":1,"a":3.32,"b":1.23},{"x":3.3,"y":1.2,"a":3.324,"b":1.43},{"x":3.3,"y":1.4,"a":3.328,"b":1.63},{"x":3.3,"y":1.6,"a":3.333,"b":1.83},{"x":3.3,"y":1.8,"a":3.337,"b":2.03},{"x":3.3,"y":2,"a":3.341,"b":2.23},{"x":3.3,"y":2.2,"a":3.345,"b":2.43},{"x":3.3,"y":2.4,"a":3.349,"b":2.63},{"x":3.3,"y":2.6,"a":3.353,"b":2.83},{"x":3.3,"y":2.8,"a":3.357,"b":3.03},{"x":3.3,"y":3,"a":3.361,"b":3.23},{"x":3.3,"y":3.2,"a":3.365,"b":3.43},{"x":3.3,"y":3.4,"a":3.369,"b":3.63},{"x":3.3,"y":3.6,"a":3.373,"b":3.83},{"x":3.3,"y":3.8,"a":3.377,"b":4.03},{"x":3.3,"y":4,"a":3.381,"b":4.23},
{"x":3.6,"y":-4,"a":3.519,"b":-3.729},{"x":3.6,"y":-3.8,"a":3.523,"b":-3.529},{"x":3.6,"y":-3.6,"a":3.527,"b":-3.329},{"x":3.6,"y":-3.4,"a":3.531,"b":-3.129},{"x":3.6,"y":-3.2,"a":3.535,"b":-2.929},{"x":3.6,"y":-3,"a":3.539,"b":-2.729},{"x":3.6,"y":-2.8,"a":3.543,"b":-2.529},{"x":3.6,"y":-2.6,"a":3.547,"b":-2.329},{"x":3.6,"y":-2.4,"a":3.551,"b":-2.129},{"x":3.6,"y":-2.2,"a":3.555,"b":-1.929},{"x":3.6,"y":-2,"a":3.559,"b":-1.729},{"x":3.6,"y":-1.8,"a":3.563,"b":-1.529},{"x":3.6,"y":-1.6,"a":3.567,"b":-1.329},{"x":3.6,"y":-1.4,"a":3.572,"b":-1.129},{"x":3.6,"y":-1.2,"a":3.576,"b":-0.929},{"x":3.6,"y":-1,"a":3.58,"b":-0.729},{"x":3.6,"y":-0.8,"a":3.584,"b":-0.529},{"x":3.6,"y":-0.6,"a":3.588,"b":-0.329},{"x":3.6,"y":-0.4,"a":3.592,"b":-0.129},{"x":3.6,"y":-0.2,"a":3.596,"b":0.071},{"x":3.6,"y":0,"a":3.6,"b":0.271},{"x":3.6,"y":0.2,"a":3.604,"b":0.471},{"x":3.6,"y":0.4,"a":3.608,"b":0.671},{"x":3.6,"y":0.6,"a":3.612,"b":0.871},{"x":3.6,"y":0.8,"a":3.616,"b":1.071},{"x":3.6,"y":1,"a":3.62,"b":1.271},{"x":3.6,"y":1.2,"a":3.624,"b":1.471},{"x":3.6,"y":1.4,"a":3.628,"b":1.671},{"x":3.6,"y":1.6,"a":3.633,"b":1.871},{"x":3.6,"y":1.8,"a":3.637,"b":2.071},{"x":3.6,"y":2,"a":3.641,"b":2.271},{"x":3.6,"y":2.2,"a":3.645,"b":2.471},{"x":3.6,"y":2.4,"a":3.649,"b":2.671},{"x":3.6,"y":2.6,"a":3.653,"b":2.871},{"x":3.6,"y":2.8,"a":3.657,"b":3.071},{"x":3.6,"y":3,"a":3.661,"b":3.271},{"x":3.6,"y":3.2,"a":3.665,"b":3.471},{"x":3.6,"y":3.4,"a":3.669,"b":3.671},{"x":3.6,"y":3.6,"a":3.673,"b":3.871},{"x":3.6,"y":3.8,"a":3.677,"b":4.071},{"x":3.6,"y":4,"a":3.681,"b":4.271},
{"x":3.9,"y":-4,"a":3.819,"b":-3.704},{"x":3.9,"y":-3.8,"a":3.823,"b":-3.504},{"x":3.9,"y":-3.6,"a":3.827,"b":-3.304},{"x":3.9,"y":-3.4,"a":3.831,"b":-3.104},{"x":3.9,"y":-3.2,"a":3.835,"b":-2.904},{"x":3.9,"y":-3,"a":3.839,"b":-2.704},{"x":3.9,"y":-2.8,"a":3.843,"b":-2.504},{"x":3.9,"y":-2.6,"a":3.847,"b":-2.304},{"x":3.9,"y":-2.4,"a":3.851,"b":-2.104},{"x":3.9,"y":-2.2,"a":3.855,"b":-1.904},{"x":3.9,"y":-2,"a":3.859,"b":-1.704},{"x":3.9,"y":-1.8,"a":3.863,"b":-1.504},{"x":3.9,"y":-1.6,"a":3.867,"b":-1.304},{"x":3.9,"y":-1.4,"a":3.872,"b":-1.104},{"x":3.9,"y":-1.2,"a":3.876,"b":-0.904},{"x":3.9,"y":-1,"a":3.88,"b":-0.704},{"x":3.9,"y":-0.8,"a":3.884,"b":-0.504},{"x":3.9,"y":-0.6,"a":3.888,"b":-0.304},{"x":3.9,"y":-0.4,"a":3.892,"b":-0.104},{"x":3.9,"y":-0.2,"a":3.896,"b":0.096},{"x":3.9,"y":0,"a":3.9,"b":0.296},{"x":3.9,"y":0.2,"a":3.904,"b":0.496},{"x":3.9,"y":0.4,"a":3.908,"b":0.696},{"x":3.9,"y":0.6,"a":3.912,"b":0.896},{"x":3.9,"y":0.8,"a":3.916,"b":1.096},{"x":3.9,"y":1,"a":3.92,"b":1.296},{"x":3.9,"y":1.2,"a":3.924,"b":1.496},{"x":3.9,"y":1.4,"a":3.928,"b":1.696},{"x":3.9,"y":1.6,"a":3.933,"b":1.896},{"x":3.9,"y":1.8,"a":3.937,"b":2.096},{"x":3.9,"y":2,"a":3.941,"b":2.296},{"x":3.9,"y":2.2,"a":3.945,"b":2.496},{"x":3.9,"y":2.4,"a":3.949,"b":2.696},{"x":3.9,"y":2.6,"a":3.953,"b":2.896},{"x":3.9,"y":2.8,"a":3.957,"b":3.096},{"x":3.9,"y":3,"a":3.961,"b":3.296},{"x":3.9,"y":3.2,"a":3.965,"b":3.496},{"x":3.9,"y":3.4,"a":3.969,"b":3.696},{"x":3.9,"y":3.6,"a":3.973,"b":3.896},{"x":3.9,"y":3.8,"a":3.977,"b":4.096},{"x":3.9,"y":4,"a":3.981,"b":4.296}
],
"sep":[
{"o":0,"x":-1.1988,"y":0},{"o":1,"x":-1.195,"y":0.292},{"o":2,"x":-1.19,"y":0.444},{"o":3,"x":-1.18,"y":0.648},{"o":4,"x":-1.16,"y":0.928},{"o":5,"x":-1.14,"y":1.138},{"o":6,"x":-1.1,"y":1.465},{"o":7,"x":-1.05,"y":1.78},{"o":8,"x":-1,"y":2.037},{"o":9,"x":-0.9,"y":2.445},{"o":10,"x":-0.8,"y":2.76},{"o":11,"x":-0.7,"y":3.011},{"o":12,"x":-0.6,"y":3.212},{"o":13,"x":-0.5,"y":3.372},{"o":14,"x":-0.4,"y":3.496},{"o":15,"x":-0.3,"y":3.589},{"o":16,"x":-0.2,"y":3.652},{"o":17,"x":-0.1,"y":3.689},{"o":18,"x":0,"y":3.701},{"o":19,"x":0.1,"y":3.69},{"o":20,"x":0.2,"y":3.656},{"o":21,"x":0.3,"y":3.601},{"o":22,"x":0.4,"y":3.526},{"o":23,"x":0.5,"y":3.433},{"o":24,"x":0.6,"y":3.321},{"o":25,"x":0.7,"y":3.191},{"o":26,"x":0.8,"y":3.045},{"o":27,"x":0.9,"y":2.883},{"o":28,"x":1,"y":2.706},{"o":29,"x":1.1,"y":2.514},{"o":30,"x":1.2,"y":2.309},{"o":31,"x":1.3,"y":2.091},{"o":32,"x":1.4,"y":1.862},{"o":33,"x":1.5,"y":1.621},{"o":34,"x":1.6,"y":1.369},{"o":35,"x":1.7,"y":1.108},{"o":36,"x":1.8,"y":0.838},{"o":37,"x":1.9,"y":0.56},{"o":38,"x":2,"y":0.275},{"o":39,"x":2.0944,"y":0},
{"o":40,"x":2,"y":-0.275},{"o":41,"x":1.9,"y":-0.56},{"o":42,"x":1.8,"y":-0.838},{"o":43,"x":1.7,"y":-1.108},{"o":44,"x":1.6,"y":-1.369},{"o":45,"x":1.5,"y":-1.621},{"o":46,"x":1.4,"y":-1.862},{"o":47,"x":1.3,"y":-2.091},{"o":48,"x":1.2,"y":-2.309},{"o":49,"x":1.1,"y":-2.514},{"o":50,"x":1,"y":-2.706},{"o":51,"x":0.9,"y":-2.883},{"o":52,"x":0.8,"y":-3.045},{"o":53,"x":0.7,"y":-3.191},{"o":54,"x":0.6,"y":-3.321},{"o":55,"x":0.5,"y":-3.433},{"o":56,"x":0.4,"y":-3.526},{"o":57,"x":0.3,"y":-3.601},{"o":58,"x":0.2,"y":-3.656},{"o":59,"x":0.1,"y":-3.69},{"o":60,"x":0,"y":-3.701},{"o":61,"x":-0.1,"y":-3.689},{"o":62,"x":-0.2,"y":-3.652},{"o":63,"x":-0.3,"y":-3.589},{"o":64,"x":-0.4,"y":-3.496},{"o":65,"x":-0.5,"y":-3.372},{"o":66,"x":-0.6,"y":-3.212},{"o":67,"x":-0.7,"y":-3.011},{"o":68,"x":-0.8,"y":-2.76},{"o":69,"x":-0.9,"y":-2.445},{"o":70,"x":-1,"y":-2.037},{"o":71,"x":-1.05,"y":-1.78},{"o":72,"x":-1.1,"y":-1.465},{"o":73,"x":-1.14,"y":-1.138},{"o":74,"x":-1.16,"y":-0.928},{"o":75,"x":-1.18,"y":-0.648},{"o":76,"x":-1.19,"y":-0.444},{"o":77,"x":-1.195,"y":-0.292},{"o":78,"x":-1.1988,"y":0}
],
"orb":[
{"k":1,"o":0,"x":-0.1838,"y":0},{"k":1,"o":1,"x":-0.18,"y":0.112},{"k":1,"o":2,"x":-0.17,"y":0.21},{"k":1,"o":3,"x":-0.15,"y":0.319},{"k":1,"o":4,"x":-0.12,"y":0.418},{"k":1,"o":5,"x":-0.08,"y":0.496},{"k":1,"o":6,"x":-0.04,"y":0.537},{"k":1,"o":7,"x":0,"y":0.55},{"k":1,"o":8,"x":0.04,"y":0.537},{"k":1,"o":9,"x":0.08,"y":0.498},{"k":1,"o":10,"x":0.12,"y":0.425},{"k":1,"o":11,"x":0.15,"y":0.336},{"k":1,"o":12,"x":0.17,"y":0.246},{"k":1,"o":13,"x":0.18,"y":0.179},{"k":1,"o":14,"x":0.187,"y":0.105},{"k":1,"o":15,"x":0.1906,"y":0},{"k":1,"o":16,"x":0.187,"y":-0.105},{"k":1,"o":17,"x":0.18,"y":-0.179},{"k":1,"o":18,"x":0.17,"y":-0.246},{"k":1,"o":19,"x":0.15,"y":-0.336},{"k":1,"o":20,"x":0.12,"y":-0.425},{"k":1,"o":21,"x":0.08,"y":-0.498},{"k":1,"o":22,"x":0.04,"y":-0.537},{"k":1,"o":23,"x":0,"y":-0.55},{"k":1,"o":24,"x":-0.04,"y":-0.537},{"k":1,"o":25,"x":-0.08,"y":-0.496},{"k":1,"o":26,"x":-0.12,"y":-0.418},{"k":1,"o":27,"x":-0.15,"y":-0.319},{"k":1,"o":28,"x":-0.17,"y":-0.21},{"k":1,"o":29,"x":-0.18,"y":-0.112},{"k":1,"o":30,"x":-0.1838,"y":0},
{"k":2,"o":0,"x":-0.431,"y":0},{"k":2,"o":1,"x":-0.428,"y":0.156},{"k":2,"o":2,"x":-0.42,"y":0.297},{"k":2,"o":3,"x":-0.4,"y":0.493},{"k":2,"o":4,"x":-0.38,"y":0.624},{"k":2,"o":5,"x":-0.35,"y":0.771},{"k":2,"o":6,"x":-0.3,"y":0.947},{"k":2,"o":7,"x":-0.25,"y":1.073},{"k":2,"o":8,"x":-0.2,"y":1.165},{"k":2,"o":9,"x":-0.1,"y":1.276},{"k":2,"o":10,"x":0,"y":1.31},{"k":2,"o":11,"x":0.1,"y":1.277},{"k":2,"o":12,"x":0.2,"y":1.176},{"k":2,"o":13,"x":0.3,"y":0.994},{"k":2,"o":14,"x":0.35,"y":0.858},{"k":2,"o":15,"x":0.4,"y":0.674},{"k":2,"o":16,"x":0.43,"y":0.52},{"k":2,"o":17,"x":0.45,"y":0.377},{"k":2,"o":18,"x":0.465,"y":0.207},{"k":2,"o":19,"x":0.4713,"y":0},{"k":2,"o":20,"x":0.465,"y":-0.207},{"k":2,"o":21,"x":0.45,"y":-0.377},{"k":2,"o":22,"x":0.43,"y":-0.52},{"k":2,"o":23,"x":0.4,"y":-0.674},{"k":2,"o":24,"x":0.35,"y":-0.858},{"k":2,"o":25,"x":0.3,"y":-0.994},{"k":2,"o":26,"x":0.2,"y":-1.176},{"k":2,"o":27,"x":0.1,"y":-1.277},{"k":2,"o":28,"x":0,"y":-1.31},{"k":2,"o":29,"x":-0.1,"y":-1.276},{"k":2,"o":30,"x":-0.2,"y":-1.165},{"k":2,"o":31,"x":-0.25,"y":-1.073},{"k":2,"o":32,"x":-0.3,"y":-0.947},{"k":2,"o":33,"x":-0.35,"y":-0.771},{"k":2,"o":34,"x":-0.38,"y":-0.624},{"k":2,"o":35,"x":-0.4,"y":-0.493},{"k":2,"o":36,"x":-0.42,"y":-0.297},{"k":2,"o":37,"x":-0.428,"y":-0.156},{"k":2,"o":38,"x":-0.431,"y":0},
{"k":3,"o":0,"x":-0.7185,"y":0},{"k":3,"o":1,"x":-0.715,"y":0.22},{"k":3,"o":2,"x":-0.71,"y":0.343},{"k":3,"o":3,"x":-0.7,"y":0.503},{"k":3,"o":4,"x":-0.68,"y":0.721},{"k":3,"o":5,"x":-0.65,"y":0.951},{"k":3,"o":6,"x":-0.6,"y":1.227},{"k":3,"o":7,"x":-0.55,"y":1.434},{"k":3,"o":8,"x":-0.5,"y":1.599},{"k":3,"o":9,"x":-0.4,"y":1.847},{"k":3,"o":10,"x":-0.3,"y":2.016},{"k":3,"o":11,"x":-0.2,"y":2.127},{"k":3,"o":12,"x":-0.1,"y":2.19},{"k":3,"o":13,"x":0,"y":2.21},{"k":3,"o":14,"x":0.1,"y":2.191},{"k":3,"o":15,"x":0.2,"y":2.134},{"k":3,"o":16,"x":0.3,"y":2.038},{"k":3,"o":17,"x":0.4,"y":1.903},{"k":3,"o":18,"x":0.5,"y":1.723},{"k":3,"o":19,"x":0.6,"y":1.487},{"k":3,"o":20,"x":0.7,"y":1.17},{"k":3,"o":21,"x":0.75,"y":0.959},{"k":3,"o":22,"x":0.8,"y":0.676},{"k":3,"o":23,"x":0.82,"y":0.518},{"k":3,"o":24,"x":0.835,"y":0.354},{"k":3,"o":25,"x":0.844,"y":0.198},{"k":3,"o":26,"x":0.8481,"y":0},{"k":3,"o":27,"x":0.844,"y":-0.198},{"k":3,"o":28,"x":0.835,"y":-0.354},{"k":3,"o":29,"x":0.82,"y":-0.518},{"k":3,"o":30,"x":0.8,"y":-0.676},{"k":3,"o":31,"x":0.75,"y":-0.959},{"k":3,"o":32,"x":0.7,"y":-1.17},{"k":3,"o":33,"x":0.6,"y":-1.487},{"k":3,"o":34,"x":0.5,"y":-1.723},{"k":3,"o":35,"x":0.4,"y":-1.903},{"k":3,"o":36,"x":0.3,"y":-2.038},{"k":3,"o":37,"x":0.2,"y":-2.134},{"k":3,"o":38,"x":0.1,"y":-2.191},{"k":3,"o":39,"x":0,"y":-2.21},{"k":3,"o":40,"x":-0.1,"y":-2.19},{"k":3,"o":41,"x":-0.2,"y":-2.127},{"k":3,"o":42,"x":-0.3,"y":-2.016},{"k":3,"o":43,"x":-0.4,"y":-1.847},{"k":3,"o":44,"x":-0.5,"y":-1.599},{"k":3,"o":45,"x":-0.55,"y":-1.434},{"k":3,"o":46,"x":-0.6,"y":-1.227},{"k":3,"o":47,"x":-0.65,"y":-0.951},{"k":3,"o":48,"x":-0.68,"y":-0.721},{"k":3,"o":49,"x":-0.7,"y":-0.503},{"k":3,"o":50,"x":-0.71,"y":-0.343},{"k":3,"o":51,"x":-0.715,"y":-0.22},{"k":3,"o":52,"x":-0.7185,"y":0},
{"k":4,"o":0,"x":-1.0082,"y":0},{"k":4,"o":1,"x":-1.005,"y":0.248},{"k":4,"o":2,"x":-1,"y":0.396},{"k":4,"o":3,"x":-0.99,"y":0.589},{"k":4,"o":4,"x":-0.97,"y":0.851},{"k":4,"o":5,"x":-0.95,"y":1.045},{"k":4,"o":6,"x":-0.9,"y":1.408},{"k":4,"o":7,"x":-0.85,"y":1.682},{"k":4,"o":8,"x":-0.8,"y":1.904},{"k":4,"o":9,"x":-0.7,"y":2.252},{"k":4,"o":10,"x":-0.6,"y":2.515},{"k":4,"o":11,"x":-0.5,"y":2.716},{"k":4,"o":12,"x":-0.4,"y":2.869},{"k":4,"o":13,"x":-0.3,"y":2.981},{"k":4,"o":14,"x":-0.2,"y":3.057},{"k":4,"o":15,"x":-0.1,"y":3.101},{"k":4,"o":16,"x":0,"y":3.115},{"k":4,"o":17,"x":0.1,"y":3.102},{"k":4,"o":18,"x":0.2,"y":3.061},{"k":4,"o":19,"x":0.3,"y":2.996},{"k":4,"o":20,"x":0.4,"y":2.906},{"k":4,"o":21,"x":0.5,"y":2.791},{"k":4,"o":22,"x":0.6,"y":2.652},{"k":4,"o":23,"x":0.7,"y":2.488},{"k":4,"o":24,"x":0.8,"y":2.297},{"k":4,"o":25,"x":0.9,"y":2.078},{"k":4,"o":26,"x":1,"y":1.824},{"k":4,"o":27,"x":1.1,"y":1.526},{"k":4,"o":28,"x":1.2,"y":1.157},{"k":4,"o":29,"x":1.25,"y":0.925},{"k":4,"o":30,"x":1.3,"y":0.617},{"k":4,"o":31,"x":1.32,"y":0.441},{"k":4,"o":32,"x":1.335,"y":0.237},{"k":4,"o":33,"x":1.3411,"y":0},{"k":4,"o":34,"x":1.335,"y":-0.237},{"k":4,"o":35,"x":1.32,"y":-0.441},{"k":4,"o":36,"x":1.3,"y":-0.617},{"k":4,"o":37,"x":1.25,"y":-0.925},{"k":4,"o":38,"x":1.2,"y":-1.157},{"k":4,"o":39,"x":1.1,"y":-1.526},{"k":4,"o":40,"x":1,"y":-1.824},{"k":4,"o":41,"x":0.9,"y":-2.078},{"k":4,"o":42,"x":0.8,"y":-2.297},{"k":4,"o":43,"x":0.7,"y":-2.488},{"k":4,"o":44,"x":0.6,"y":-2.652},{"k":4,"o":45,"x":0.5,"y":-2.791},{"k":4,"o":46,"x":0.4,"y":-2.906},{"k":4,"o":47,"x":0.3,"y":-2.996},{"k":4,"o":48,"x":0.2,"y":-3.061},{"k":4,"o":49,"x":0.1,"y":-3.102},{"k":4,"o":50,"x":0,"y":-3.115},{"k":4,"o":51,"x":-0.1,"y":-3.101},{"k":4,"o":52,"x":-0.2,"y":-3.057},{"k":4,"o":53,"x":-0.3,"y":-2.981},{"k":4,"o":54,"x":-0.4,"y":-2.869},{"k":4,"o":55,"x":-0.5,"y":-2.716},{"k":4,"o":56,"x":-0.6,"y":-2.515},{"k":4,"o":57,"x":-0.7,"y":-2.252},{"k":4,"o":58,"x":-0.8,"y":-1.904},{"k":4,"o":59,"x":-0.85,"y":-1.682},{"k":4,"o":60,"x":-0.9,"y":-1.408},{"k":4,"o":61,"x":-0.95,"y":-1.045},{"k":4,"o":62,"x":-0.97,"y":-0.851},{"k":4,"o":63,"x":-0.99,"y":-0.589},{"k":4,"o":64,"x":-1,"y":-0.396},{"k":4,"o":65,"x":-1.005,"y":-0.248},{"k":4,"o":66,"x":-1.0082,"y":0}
],
"tr":[
{"o":0,"x":-1.3,"y":0.5},{"o":1,"x":-1.25,"y":1.197},{"o":2,"x":-1.2,"y":1.606},{"o":3,"x":-1.1,"y":2.179},{"o":4,"x":-1,"y":2.599},{"o":5,"x":-0.9,"y":2.929},{"o":6,"x":-0.8,"y":3.197},{"o":7,"x":-0.7,"y":3.416},{"o":8,"x":-0.6,"y":3.595},{"o":9,"x":-0.5,"y":3.738},{"o":10,"x":-0.4,"y":3.851},{"o":11,"x":-0.3,"y":3.935},{"o":12,"x":-0.2,"y":3.993},{"o":13,"x":-0.1,"y":4.027},{"o":14,"x":0,"y":4.038},{"o":15,"x":0.1,"y":4.027},{"o":16,"x":0.2,"y":3.996},{"o":17,"x":0.3,"y":3.946},{"o":18,"x":0.4,"y":3.878},{"o":19,"x":0.5,"y":3.793},{"o":20,"x":0.6,"y":3.692},{"o":21,"x":0.7,"y":3.576},{"o":22,"x":0.8,"y":3.446},{"o":23,"x":0.9,"y":3.304},{"o":24,"x":1,"y":3.15},{"o":25,"x":1.1,"y":2.988},{"o":26,"x":1.2,"y":2.817},{"o":27,"x":1.3,"y":2.642},{"o":28,"x":1.4,"y":2.464},{"o":29,"x":1.5,"y":2.287},{"o":30,"x":1.6,"y":2.117},{"o":31,"x":1.7,"y":1.958},{"o":32,"x":1.8,"y":1.819},{"o":33,"x":1.9,"y":1.709},{"o":34,"x":2,"y":1.637},{"o":35,"x":2.1,"y":1.614},{"o":36,"x":2.2,"y":1.644},{"o":37,"x":2.3,"y":1.728},{"o":38,"x":2.4,"y":1.859},{"o":39,"x":2.5,"y":2.03},{"o":40,"x":2.6,"y":2.233},{"o":41,"x":2.7,"y":2.459},{"o":42,"x":2.8,"y":2.704},{"o":43,"x":2.9,"y":2.962},{"o":44,"x":3,"y":3.229},{"o":45,"x":3.1,"y":3.502},{"o":46,"x":3.2,"y":3.778},{"o":47,"x":3.3,"y":4.057},{"o":48,"x":3.4,"y":4.335}
],
"dots":[{"x":-4.1888,"y":0},{"x":2.0944,"y":0}],
"pl":[{"x":0,"y":0}]
},
"layer":[
{"data":{"name":"q"},"mark":{"type":"rule","color":"#0000ff","strokeWidth":0.8,"clip":true},
"encoding":{"x":{"field":"x","type":"quantitative","scale":{"domain":[-6,4],"nice":false,"zero":false},"axis":{"orient":"bottom","values":[-6,-5,-4,-3,-2,-1,0,1,2,3,4],"labelPadding":8,"labelAlign":{"condition":{"test":"datum.value == 4","value":"right"},"value":"center"},"title":"x₁","titlePadding":2}},"x2":{"field":"a"},
"y":{"field":"y","type":"quantitative","scale":{"domain":[-4,4],"nice":false,"zero":false},"axis":{"orient":"left","values":[-4,-3,-2,-1,0,1,2,3,4],"labelPadding":7,"title":"x₂","titlePadding":6}},"y2":{"field":"b"}}},
{"data":{"name":"sep"},"mark":{"type":"line","color":"#0a0a3c","strokeWidth":2,"clip":true},
"encoding":{"x":{"field":"x","type":"quantitative","scale":{"domain":[-6,4],"nice":false,"zero":false},"axis":null},"y":{"field":"y","type":"quantitative","scale":{"domain":[-4,4],"nice":false,"zero":false},"axis":null},"order":{"field":"o"}}},
{"data":{"name":"orb"},"mark":{"type":"line","color":"#00ff00","strokeWidth":2.5,"clip":true},
"encoding":{"x":{"field":"x","type":"quantitative","scale":{"domain":[-6,4],"nice":false,"zero":false},"axis":null},"y":{"field":"y","type":"quantitative","scale":{"domain":[-4,4],"nice":false,"zero":false},"axis":null},"detail":{"field":"k"},"order":{"field":"o"}}},
{"data":{"name":"tr"},"mark":{"type":"line","color":"#00ff00","strokeWidth":1,"clip":true},
"encoding":{"x":{"field":"x","type":"quantitative","scale":{"domain":[-6,4],"nice":false,"zero":false},"axis":null},"y":{"field":"y","type":"quantitative","scale":{"domain":[-4,4],"nice":false,"zero":false},"axis":null},"order":{"field":"o"}}},
{"data":{"name":"dots"},"mark":{"type":"point","shape":"circle","filled":true,"color":"#0000ff","size":20,"opacity":1},
"encoding":{"x":{"field":"x","type":"quantitative","scale":{"domain":[-6,4],"nice":false,"zero":false},"axis":{"orient":"top","values":[-6,-5,-4,-3,-2,-1,0,1,2,3,4],"labels":false,"title":null}},"y":{"field":"y","type":"quantitative","scale":{"domain":[-4,4],"nice":false,"zero":false},"axis":{"orient":"right","values":[-4,-3,-2,-1,0,1,2,3,4],"labels":false,"title":null}}}},
{"data":{"name":"pl"},"mark":{"type":"point","shape":"M-1,0L1,0M0,-1L0,1","filled":false,"color":"#0000ff","size":40,"strokeWidth":1,"opacity":1},
"encoding":{"x":{"field":"x","type":"quantitative","scale":{"domain":[-6,4],"nice":false,"zero":false},"axis":null},"y":{"field":"y","type":"quantitative","scale":{"domain":[-4,4],"nice":false,"zero":false},"axis":null}}}
]
}
